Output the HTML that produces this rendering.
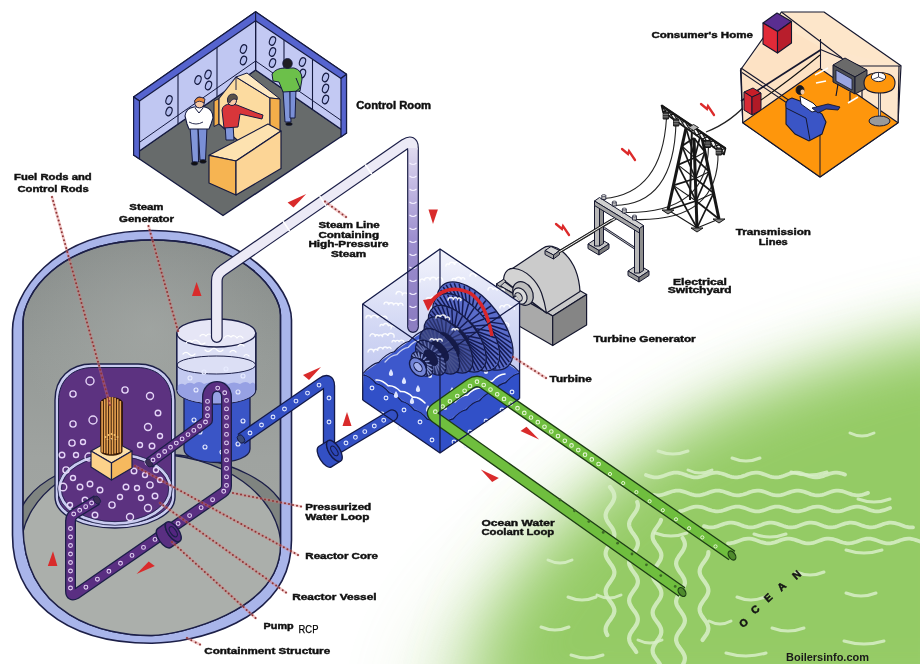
<!DOCTYPE html>
<html><head><meta charset="utf-8"><title>Nuclear Power Plant</title>
<style>
html,body{margin:0;padding:0;background:#fff;}
body{width:920px;height:666px;overflow:hidden;font-family:"Liberation Sans",sans-serif;}
svg{display:block;}
text{font-family:"Liberation Sans",sans-serif;}
</style></head><body>
<svg width="920" height="666" viewBox="0 0 920 666">
<defs>
<filter id="oblur" x="-40%" y="-40%" width="180%" height="180%"><feGaussianBlur stdDeviation="34"/></filter>
<filter id="oblur2" x="-40%" y="-40%" width="180%" height="180%"><feGaussianBlur stdDeviation="18"/></filter>
<filter id="oblur3" x="-50%" y="-50%" width="200%" height="200%"><feGaussianBlur stdDeviation="45"/></filter>
<linearGradient id="cgray" gradientUnits="userSpaceOnUse" x1="0" y1="235" x2="0" y2="640">
      <stop offset="0" stop-color="#868b89"/><stop offset="0.3" stop-color="#959a97"/><stop offset="0.55" stop-color="#9fa3a0"/><stop offset="1" stop-color="#a4a8a4"/></linearGradient>
<radialGradient id="cglow" cx="150" cy="330" r="130" gradientUnits="userSpaceOnUse">
      <stop offset="0" stop-color="#a8aca9" stop-opacity="0.6"/><stop offset="1" stop-color="#a8aca9" stop-opacity="0"/></radialGradient>
<clipPath id="cinner"><path d="M 23 525 L 23 322 C 23 296, 56 240, 152 240 C 248 240, 280.5 294, 280.5 315 L 280.5 545 C 280.5 612, 178 635, 152 635.5 C 104 636, 23 616, 23 525 Z"/></clipPath>
<linearGradient id="tbair" gradientUnits="userSpaceOnUse" x1="0" y1="250" x2="0" y2="400">
      <stop offset="0" stop-color="#f3f4fc"/><stop offset="0.5" stop-color="#d3d8f4"/><stop offset="1" stop-color="#b9c1ee"/></linearGradient>
<linearGradient id="stv" gradientUnits="userSpaceOnUse" x1="0" y1="140" x2="0" y2="330">
      <stop offset="0" stop-color="#e6e2f2"/><stop offset="0.2" stop-color="#c8bfe5"/><stop offset="0.52" stop-color="#9d8fcf"/><stop offset="1" stop-color="#8a7bc0"/></linearGradient>
<filter id="gaa" x="0" y="0" width="100%" height="100%" filterUnits="userSpaceOnUse"><feOffset dx="0" dy="0"/></filter>
</defs>
<rect x="0" y="0" width="920" height="666" fill="#ffffff"/>
<path d="M 1000 360 L 760 420 C 640 470 520 560 455 640 L 420 740 L 1000 740 Z" fill="#94cb65" opacity="0.45" filter="url(#oblur3)"/>
<path d="M 1000 325 L 920 340 C 820 365 715 405 645 455 C 580 505 525 565 497 625 L 472 720 L 1000 720 Z" fill="#94cb65" filter="url(#oblur)"/>
<g><path d="M646 475 L648 475.7 L650 476.4 L652 476.9 L654 477.3 L656 477.4 L657.9 477.3 L659.9 477 L661.9 476.4 L663.9 475.8 L665.9 475 L667.9 474.3 L669.9 473.6 L671.9 473.1 L673.9 472.7 L675.9 472.6 L677.8 472.7 L679.8 473 L681.8 473.5 L683.8 474.2 L685.8 474.9 L687.8 475.7 L689.8 476.3 L691.8 476.9 L693.8 477.3 L695.8 477.4 L697.7 477.3 L699.7 477 L701.7 476.5 L703.7 475.8 L705.7 475.1 L707.7 474.4 L709.7 473.7 L711.7 473.1 L713.7 472.8 L715.6 472.6 L717.6 472.7 L719.6 473 L721.6 473.5 L723.6 474.1 L725.6 474.8 L727.6 475.6 L729.6 476.3 L731.6 476.8 L733.6 477.2 L735.5 477.4 L737.5 477.3 L739.5 477 L741.5 476.6 L743.5 475.9 L745.5 475.2 L747.5 474.4 L749.5 473.8 L751.5 473.2 L753.5 472.8 L755.5 472.6 L757.4 472.7 L759.4 472.9 L761.4 473.4 L763.4 474.1 L765.4 474.8 L767.4 475.5 L769.4 476.2 L771.4 476.8 L773.4 477.2 L775.4 477.4 L777.3 477.3 L779.3 477.1 L781.3 476.6 L783.3 476 L785.3 475.3 L787.3 474.5 L789.3 473.8 L791.3 473.2 L793.3 472.8 L795.2 472.6 L797.2 472.6 L799.2 472.9 L801.2 473.4 L803.2 474 L805.2 474.7 L807.2 475.4 L809.2 476.1 L811.2 476.7 L813.2 477.2 L815.1 477.4 L817.1 477.4 L819.1 477.1 L821.1 476.7 L823.1 476.1 L825.1 475.3 L827.1 474.6 L829.1 473.9 L831.1 473.3 L833.1 472.9 L835 472.6 L837 472.6 L839 472.9 L841 473.3 L843 473.9 L845 474.6" fill="none" stroke="#d8eec8" stroke-width="3.8" stroke-linecap="round" opacity="0.85"/><path d="M654 495 L656 495.3 L658 495.4 L659.9 495.2 L661.9 494.9 L663.9 494.3 L665.9 493.6 L667.9 492.9 L669.9 492.2 L671.8 491.5 L673.8 491 L675.8 490.7 L677.8 490.6 L679.8 490.7 L681.7 491.1 L683.7 491.6 L685.7 492.3 L687.7 493 L689.7 493.8 L691.6 494.4 L693.6 494.9 L695.6 495.3 L697.6 495.4 L699.6 495.3 L701.6 495 L703.5 494.4 L705.5 493.8 L707.5 493.1 L709.5 492.3 L711.5 491.6 L713.4 491.1 L715.4 490.7 L717.4 490.6 L719.4 490.7 L721.4 491 L723.4 491.5 L725.3 492.2 L727.3 492.9 L729.3 493.6 L731.3 494.3 L733.3 494.9 L735.2 495.2 L737.2 495.4 L739.2 495.3 L741.2 495 L743.2 494.5 L745.1 493.9 L747.1 493.2 L749.1 492.4 L751.1 491.8 L753.1 491.2 L755.1 490.8 L757 490.6 L759 490.7 L761 490.9 L763 491.4 L765 492 L766.9 492.7 L768.9 493.5 L770.9 494.2 L772.9 494.8 L774.9 495.2 L776.9 495.4 L778.8 495.4 L780.8 495.1 L782.8 494.7 L784.8 494 L786.8 493.3 L788.7 492.6 L790.7 491.9 L792.7 491.3 L794.7 490.9 L796.7 490.6 L798.6 490.6 L800.6 490.9 L802.6 491.3 L804.6 491.9 L806.6 492.6 L808.6 493.3 L810.5 494.1 L812.5 494.7 L814.5 495.1 L816.5 495.4 L818.5 495.4 L820.4 495.2 L822.4 494.8 L824.4 494.2 L826.4 493.5 L828.4 492.7 L830.4 492 L832.3 491.4 L834.3 490.9 L836.3 490.7 L838.3 490.6 L840.3 490.8 L842.2 491.2 L844.2 491.8 L846.2 492.5 L848.2 493.2 L850.2 493.9 L852.1 494.6 L854.1 495 L856.1 495.3 L858.1 495.4 L860.1 495.2 L862.1 494.8 L864 494.3 L866 493.6 L868 492.9" fill="none" stroke="#d8eec8" stroke-width="3.8" stroke-linecap="round" opacity="0.85"/><path d="M680 511.2 L682 510.8 L684 510.2 L685.9 509.5 L687.9 508.8 L689.9 508 L691.9 507.4 L693.9 506.9 L695.8 506.7 L697.8 506.6 L699.8 506.8 L701.8 507.2 L703.8 507.7 L705.8 508.4 L707.7 509.2 L709.7 509.9 L711.7 510.5 L713.7 511 L715.7 511.3 L717.6 511.4 L719.6 511.2 L721.6 510.9 L723.6 510.3 L725.6 509.6 L727.5 508.9 L729.5 508.2 L731.5 507.5 L733.5 507 L735.5 506.7 L737.5 506.6 L739.4 506.7 L741.4 507.1 L743.4 507.6 L745.4 508.3 L747.4 509 L749.3 509.8 L751.3 510.4 L753.3 510.9 L755.3 511.3 L757.3 511.4 L759.2 511.3 L761.2 511 L763.2 510.4 L765.2 509.8 L767.2 509 L769.2 508.3 L771.1 507.6 L773.1 507.1 L775.1 506.7 L777.1 506.6 L779.1 506.7 L781 507 L783 507.5 L785 508.2 L787 508.9 L789 509.6 L790.9 510.3 L792.9 510.9 L794.9 511.2 L796.9 511.4 L798.9 511.3 L800.8 511 L802.8 510.5 L804.8 509.9 L806.8 509.2 L808.8 508.4 L810.8 507.8 L812.7 507.2 L814.7 506.8 L816.7 506.6 L818.7 506.7 L820.7 506.9 L822.6 507.4 L824.6 508 L826.6 508.8 L828.6 509.5 L830.6 510.2 L832.5 510.8 L834.5 511.2 L836.5 511.4 L838.5 511.4 L840.5 511.1 L842.5 510.6 L844.4 510 L846.4 509.3 L848.4 508.6 L850.4 507.9 L852.4 507.3 L854.3 506.8 L856.3 506.6 L858.3 506.6 L860.3 506.9 L862.3 507.3 L864.2 507.9 L866.2 508.6 L868.2 509.4 L870.2 510.1 L872.2 510.7 L874.2 511.1 L876.1 511.4 L878.1 511.4 L880.1 511.2 L882.1 510.7 L884.1 510.2 L886 509.5 L888 508.7 L890 508" fill="none" stroke="#d8eec8" stroke-width="3.8" stroke-linecap="round" opacity="0.85"/><path d="M704 526.2 L706 526.7 L708 527.2 L710 527.4 L712 527.4 L714 527.1 L715.9 526.7 L717.9 526.1 L719.9 525.3 L721.9 524.6 L723.9 523.9 L725.9 523.3 L727.9 522.8 L729.9 522.6 L731.9 522.6 L733.9 522.9 L735.8 523.3 L737.8 523.9 L739.8 524.6 L741.8 525.4 L743.8 526.1 L745.8 526.7 L747.8 527.1 L749.8 527.4 L751.8 527.4 L753.8 527.1 L755.8 526.7 L757.7 526.1 L759.7 525.4 L761.7 524.7 L763.7 523.9 L765.7 523.3 L767.7 522.9 L769.7 522.6 L771.7 522.6 L773.7 522.8 L775.7 523.3 L777.6 523.9 L779.6 524.6 L781.6 525.3 L783.6 526 L785.6 526.6 L787.6 527.1 L789.6 527.4 L791.6 527.4 L793.6 527.2 L795.6 526.8 L797.6 526.2 L799.5 525.5 L801.5 524.7 L803.5 524 L805.5 523.4 L807.5 522.9 L809.5 522.7 L811.5 522.6 L813.5 522.8 L815.5 523.2 L817.5 523.8 L819.4 524.5 L821.4 525.2 L823.4 526 L825.4 526.6 L827.4 527.1 L829.4 527.3 L831.4 527.4 L833.4 527.2 L835.4 526.8 L837.4 526.2 L839.4 525.5 L841.3 524.8 L843.3 524.1 L845.3 523.4 L847.3 523 L849.3 522.7 L851.3 522.6 L853.3 522.8 L855.3 523.2 L857.3 523.7 L859.3 524.4 L861.2 525.2 L863.2 525.9 L865.2 526.5 L867.2 527 L869.2 527.3 L871.2 527.4 L873.2 527.2 L875.2 526.9 L877.2 526.3 L879.2 525.6 L881.2 524.9 L883.1 524.1 L885.1 523.5 L887.1 523 L889.1 522.7 L891.1 522.6 L893.1 522.8 L895.1 523.1 L897.1 523.7 L899.1 524.3 L901.1 525.1 L903 525.8 L905 526.5 L907 527 L909 527.3 L911 527.4 L913 527.3" fill="none" stroke="#d8eec8" stroke-width="3.8" stroke-linecap="round" opacity="0.85"/><path d="M728 543.4 L730 543.3 L732 543 L733.9 542.6 L735.9 541.9 L737.9 541.2 L739.9 540.5 L741.9 539.8 L743.8 539.2 L745.8 538.8 L747.8 538.6 L749.8 538.7 L751.8 538.9 L753.7 539.4 L755.7 540 L757.7 540.7 L759.7 541.5 L761.6 542.2 L763.6 542.7 L765.6 543.2 L767.6 543.4 L769.6 543.4 L771.5 543.1 L773.5 542.7 L775.5 542.1 L777.5 541.4 L779.5 540.6 L781.4 539.9 L783.4 539.3 L785.4 538.9 L787.4 538.6 L789.4 538.6 L791.3 538.8 L793.3 539.3 L795.3 539.9 L797.3 540.6 L799.3 541.3 L801.2 542 L803.2 542.6 L805.2 543.1 L807.2 543.4 L809.2 543.4 L811.1 543.2 L813.1 542.8 L815.1 542.2 L817.1 541.5 L819.1 540.8 L821 540.1 L823 539.4 L825 538.9 L827 538.7 L828.9 538.6 L830.9 538.8 L832.9 539.2 L834.9 539.7 L836.9 540.4 L838.8 541.1 L840.8 541.9 L842.8 542.5 L844.8 543 L846.8 543.3 L848.7 543.4 L850.7 543.2 L852.7 542.9 L854.7 542.3 L856.7 541.7 L858.6 540.9 L860.6 540.2 L862.6 539.5 L864.6 539 L866.6 538.7 L868.5 538.6 L870.5 538.7 L872.5 539.1 L874.5 539.6 L876.5 540.3 L878.4 541 L880.4 541.7 L882.4 542.4 L884.4 542.9 L886.4 543.3 L888.3 543.4 L890.3 543.3 L892.3 543 L894.3 542.5 L896.2 541.8 L898.2 541.1 L900.2 540.3 L902.2 539.7 L904.2 539.1 L906.1 538.8 L908.1 538.6 L910.1 538.7 L912.1 539 L914.1 539.5 L916 540.1 L918 540.8 L920 541.6" fill="none" stroke="#d8eec8" stroke-width="3.8" stroke-linecap="round" opacity="0.85"/><path d="M610 487 L611.4 489 L612.7 490.9 L613.7 492.9 L614.2 494.9 L614.4 496.9 L614.1 498.8 L613.3 500.8 L612.2 502.8 L610.9 504.8 L609.5 506.7 L608.1 508.7 L606.9 510.7 L606.1 512.7 L605.6 514.6 L605.7 516.6 L606.2 518.6 L607 520.5 L608.2 522.5 L609.6 524.5 L611.1 526.5 L612.4 528.4 L613.4 530.4 L614.1 532.4 L614.4 534.4 L614.2 536.3 L613.6 538.3 L612.5 540.3 L611.3 542.3 L609.8 544.2 L608.4 546.2 L607.2 548.2 L606.3 550.1 L605.7 552.1 L605.6 554.1 L606 556.1 L606.8 558 L607.9 560 L609.3 562 L610.7 564 L612.1 565.9 L613.2 567.9 L614 569.9 L614.4 571.9 L614.3 573.8 L613.8 575.8 L612.8 577.8 L611.6 579.7 L610.2 581.7 L608.8 583.7 L607.5 585.7 L606.5 587.6 L605.8 589.6 L605.6 591.6 L605.9 593.6 L606.5 595.5 L607.6 597.5 L608.9 599.5 L610.3 601.5 L611.7 603.4 L612.9 605.4 L613.8 607.4 L614.3 609.3 L614.4 611.3 L613.9 613.3 L613.1 615.3 L611.9 617.2 L610.6 619.2 L609.1 621.2 L607.8 623.2 L606.7 625.1 L605.9 627.1 L605.6 629.1 L605.7 631.1 L606.3 633 L607.3 635" fill="none" stroke="#d8eec8" stroke-width="4.2" stroke-linecap="round" opacity="0.85"/><path d="M637.2 502 L637.8 504 L637.9 505.9 L637.5 507.9 L636.8 509.9 L635.6 511.9 L634.3 513.8 L632.9 515.8 L631.5 517.8 L630.4 519.8 L629.5 521.7 L629.1 523.7 L629.2 525.7 L629.7 527.7 L630.6 529.6 L631.8 531.6 L633.2 533.6 L634.7 535.6 L636 537.5 L637 539.5 L637.7 541.5 L637.9 543.4 L637.7 545.4 L637 547.4 L636 549.4 L634.7 551.3 L633.2 553.3 L631.8 555.3 L630.6 557.3 L629.7 559.2 L629.2 561.2 L629.1 563.2 L629.5 565.2 L630.4 567.1 L631.5 569.1 L632.9 571.1 L634.3 573.1 L635.6 575 L636.8 577 L637.5 579 L637.9 580.9 L637.8 582.9 L637.2 584.9 L636.3 586.9 L635 588.8 L633.6 590.8 L632.2 592.8 L630.9 594.8 L629.9 596.7 L629.3 598.7 L629.1 600.7 L629.4 602.7 L630.1 604.6 L631.2 606.6 L632.5 608.6 L633.9 610.6 L635.3 612.5 L636.5 614.5 L637.4 616.5 L637.8 618.4 L637.8 620.4 L637.4 622.4 L636.5 624.4 L635.3 626.3 L634 628.3 L632.5 630.3 L631.2 632.3 L630.1 634.2 L629.4 636.2 L629.1 638.2 L629.3 640.2 L629.9 642.1 L630.9 644.1 L632.2 646.1 L633.6 648.1 L635 650 L636.2 652" fill="none" stroke="#d8eec8" stroke-width="4.2" stroke-linecap="round" opacity="0.85"/><path d="M661 520 L660.2 522 L659.1 523.9 L657.7 525.9 L656.3 527.9 L654.9 529.9 L653.8 531.8 L653 533.8 L652.6 535.8 L652.7 537.8 L653.2 539.7 L654.2 541.7 L655.4 543.7 L656.8 545.6 L658.2 547.6 L659.5 549.6 L660.5 551.6 L661.2 553.5 L661.4 555.5 L661.1 557.5 L660.5 559.5 L659.4 561.4 L658.1 563.4 L656.7 565.4 L655.3 567.3 L654.1 569.3 L653.2 571.3 L652.7 573.3 L652.6 575.2 L653.1 577.2 L653.9 579.2 L655.1 581.2 L656.4 583.1 L657.9 585.1 L659.2 587.1 L660.3 589 L661.1 591 L661.4 593 L661.3 595 L660.7 596.9 L659.7 598.9 L658.4 600.9 L657 602.8 L655.6 604.8 L654.4 606.8 L653.4 608.8 L652.8 610.7 L652.6 612.7 L652.9 614.7 L653.6 616.7 L654.7 618.6 L656.1 620.6 L657.5 622.6 L658.9 624.5 L660 626.5 L660.9 628.5 L661.3 630.5 L661.3 632.4 L660.9 634.4 L660 636.4 L658.8 638.4 L657.4 640.3 L656 642.3 L654.7 644.3 L653.6 646.2 L652.9 648.2 L652.6 650.2 L652.8 652.2 L653.4 654.1 L654.4 656.1 L655.7 658.1 L657.1 660.1 L658.5 662 L659.8 664" fill="none" stroke="#d8eec8" stroke-width="4.2" stroke-linecap="round" opacity="0.85"/><path d="M682.6 538 L683.7 540 L684.5 541.9 L684.9 543.9 L684.8 545.9 L684.2 547.8 L683.3 549.8 L682.1 551.8 L680.7 553.8 L679.2 555.7 L678 557.7 L676.9 559.7 L676.3 561.6 L676.1 563.6 L676.4 565.6 L677.1 567.5 L678.1 569.5 L679.4 571.5 L680.8 573.4 L682.2 575.4 L683.4 577.4 L684.3 579.3 L684.8 581.3 L684.9 583.3 L684.4 585.2 L683.6 587.2 L682.5 589.2 L681.1 591.2 L679.7 593.1 L678.3 595.1 L677.2 597.1 L676.5 599 L676.1 601 L676.2 603 L676.8 604.9 L677.8 606.9 L679 608.9 L680.4 610.8 L681.8 612.8 L683.1 614.8 L684.1 616.8 L684.7 618.7 L684.9 620.7 L684.6 622.7 L683.9 624.6 L682.8 626.6 L681.5 628.6 L680.1 630.5 L678.7 632.5 L677.5 634.5 L676.6 636.4 L676.2 638.4 L676.1 640.4 L676.6 642.3 L677.4 644.3 L678.6 646.3 L680 648.2 L681.4 650.2 L682.7 652.2 L683.8 654.2 L684.6 656.1 L684.9 658.1 L684.7 660.1 L684.2 662 L683.2 664" fill="none" stroke="#d8eec8" stroke-width="4.2" stroke-linecap="round" opacity="0.85"/><path d="M708.4 552 L708.3 554 L707.7 555.9 L706.7 557.9 L705.5 559.8 L704.1 561.8 L702.7 563.7 L701.4 565.7 L700.4 567.6 L699.8 569.6 L699.6 571.6 L699.9 573.5 L700.5 575.5 L701.6 577.4 L702.9 579.4 L704.3 581.3 L705.7 583.3 L706.9 585.2 L707.8 587.2 L708.3 589.2 L708.4 591.1 L708 593.1 L707.2 595 L706.1 597 L704.7 598.9 L703.3 600.9 L702 602.8 L700.8 604.8 L700 606.8 L699.6 608.7 L699.7 610.7 L700.2 612.6 L701.1 614.6 L702.3 616.5 L703.7 618.5 L705.1 620.4 L706.4 622.4 L707.4 624.4 L708.1 626.3 L708.4 628.3 L708.2 630.2 L707.6 632.2 L706.6 634.1 L705.3 636.1 L703.9 638 L702.5 640" fill="none" stroke="#d8eec8" stroke-width="4.2" stroke-linecap="round" opacity="0.85"/><path d="M 658 451 Q 673 457 688 451" fill="none" stroke="#d8eec8" stroke-width="3.0" stroke-linecap="round" opacity="0.85"/><path d="M 732 458 Q 746 464 760 458" fill="none" stroke="#d8eec8" stroke-width="3.0" stroke-linecap="round" opacity="0.85"/><path d="M 791 472 Q 809 478 827 472" fill="none" stroke="#d8eec8" stroke-width="3.0" stroke-linecap="round" opacity="0.85"/><path d="M 858 499 Q 874 505 890 499" fill="none" stroke="#d8eec8" stroke-width="3.0" stroke-linecap="round" opacity="0.85"/><path d="M 850 433 Q 862 439 874 433" fill="none" stroke="#d8eec8" stroke-width="3.0" stroke-linecap="round" opacity="0.85"/><path d="M 568 597 Q 582 603 596 597" fill="none" stroke="#d8eec8" stroke-width="3.0" stroke-linecap="round" opacity="0.85"/><path d="M 597 595 Q 609 601 621 595" fill="none" stroke="#d8eec8" stroke-width="3.0" stroke-linecap="round" opacity="0.85"/><path d="M 541 627 Q 555 633 569 627" fill="none" stroke="#d8eec8" stroke-width="3.0" stroke-linecap="round" opacity="0.85"/><path d="M 571 655 Q 587 661 603 655" fill="none" stroke="#d8eec8" stroke-width="3.0" stroke-linecap="round" opacity="0.85"/><path d="M 754 534 Q 770 540 786 534" fill="none" stroke="#d8eec8" stroke-width="3.0" stroke-linecap="round" opacity="0.85"/><path d="M 846 550 Q 864 556 882 550" fill="none" stroke="#d8eec8" stroke-width="3.0" stroke-linecap="round" opacity="0.85"/><path d="M 655 533 Q 671 539 687 533" fill="none" stroke="#d8eec8" stroke-width="3.0" stroke-linecap="round" opacity="0.85"/><path d="M 737 597 Q 751 603 765 597" fill="none" stroke="#d8eec8" stroke-width="3.0" stroke-linecap="round" opacity="0.85"/><path d="M 772 628 Q 788 634 804 628" fill="none" stroke="#d8eec8" stroke-width="3.0" stroke-linecap="round" opacity="0.85"/><path d="M 846 593 Q 861 599 876 593" fill="none" stroke="#d8eec8" stroke-width="3.0" stroke-linecap="round" opacity="0.85"/><path d="M 796 572 Q 810 578 824 572" fill="none" stroke="#d8eec8" stroke-width="3.0" stroke-linecap="round" opacity="0.85"/><path d="M 688 470 Q 700 476 712 470" fill="none" stroke="#d8eec8" stroke-width="3.0" stroke-linecap="round" opacity="0.85"/><path d="M 638 640 Q 650 646 662 640" fill="none" stroke="#d8eec8" stroke-width="3.0" stroke-linecap="round" opacity="0.85"/><path d="M 709 621 Q 720 627 731 621" fill="none" stroke="#d8eec8" stroke-width="3.0" stroke-linecap="round" opacity="0.85"/><path d="M 726 653 Q 746 659 766 653" fill="none" stroke="#d8eec8" stroke-width="3.0" stroke-linecap="round" opacity="0.85"/><path d="M 844 641 Q 864 647 884 641" fill="none" stroke="#d8eec8" stroke-width="3.0" stroke-linecap="round" opacity="0.85"/><path d="M 548 560 Q 560 566 572 560" fill="none" stroke="#d8eec8" stroke-width="3.0" stroke-linecap="round" opacity="0.85"/></g>
<rect x="0" y="664" width="920" height="2" fill="#ffffff"/>
<path d="M 12.5 535 L 12.5 330 C 12.5 296, 50 230.5, 152 230.5 C 246 230.5, 291.5 288, 291.5 320 L 291.5 540 C 291.5 624, 190 643, 152 643.2 C 60 643.5, 12.5 596, 12.5 535 Z" fill="#a9b5ea" stroke="#1c1f48" stroke-width="1.6" />
<path d="M 23 525 L 23 322 C 23 296, 56 240, 152 240 C 248 240, 280.5 294, 280.5 315 L 280.5 545 C 280.5 612, 178 635, 152 635.5 C 104 636, 23 616, 23 525 Z" fill="url(#cgray)" stroke="#1c1f48" stroke-width="1.4" />
<path d="M 23 525 L 23 322 C 23 296, 56 240, 152 240 C 248 240, 280.5 294, 280.5 315 L 280.5 545 C 280.5 612, 178 635, 152 635.5 C 104 636, 23 616, 23 525 Z" fill="url(#cglow)" stroke="none" stroke-width="1" />
<g clip-path="url(#cinner)"><ellipse cx="153" cy="524" rx="135" ry="70" fill="#7f8480" stroke="#1c1f48" stroke-width="1.3" /><ellipse cx="151" cy="548" rx="130" ry="94" fill="#abafab" stroke="#1c1f48" stroke-width="1.3" /></g>
<path d="M 23 525 L 23 322 C 23 296, 56 240, 152 240 C 248 240, 280.5 294, 280.5 315 L 280.5 545 C 280.5 612, 178 635, 152 635.5 C 104 636, 23 616, 23 525 Z" fill="none" stroke="#1c1f48" stroke-width="1.4" />
<path d="M 55 400 C 55 378, 70 364, 92 364 L 138 364 C 160 364, 175 378, 175 400 L 175 497 C 175 515, 148 528, 115 528 C 82 528, 55 515, 55 497 Z" fill="#c9cbf0" stroke="#1c1f48" stroke-width="1.4" />
<path d="M 58.5 401 C 58.5 381, 72 367.5, 93 367.5 L 137 367.5 C 158 367.5, 171.5 381, 171.5 401 L 171.5 497 C 171.5 512, 146 524.5, 115 524.5 C 84 524.5, 58.5 512, 58.5 497 Z" fill="#5c3280" stroke="#1c1f48" stroke-width="1.0" />
<ellipse cx="115" cy="489" rx="55.5" ry="34.5" fill="none" stroke="#c9cbf0" stroke-width="3.2" />
<ellipse cx="115" cy="489" rx="57.3" ry="36.3" fill="none" stroke="#1c1f48" stroke-width="0.8" />
<ellipse cx="115" cy="489" rx="53.7" ry="32.7" fill="none" stroke="#1c1f48" stroke-width="0.8" />
<circle cx="73" cy="394" r="3.1" fill="none" stroke="#e4d4f6" stroke-width="1.4" /><circle cx="90" cy="381" r="4" fill="none" stroke="#e4d4f6" stroke-width="1.4" /><circle cx="125" cy="390" r="3.1" fill="none" stroke="#e4d4f6" stroke-width="1.4" /><circle cx="150" cy="396" r="3.5" fill="none" stroke="#e4d4f6" stroke-width="1.4" /><circle cx="158" cy="413" r="2.8" fill="none" stroke="#e4d4f6" stroke-width="1.4" /><circle cx="73" cy="424" r="3.1" fill="none" stroke="#e4d4f6" stroke-width="1.4" /><circle cx="93" cy="420" r="4" fill="none" stroke="#e4d4f6" stroke-width="1.4" /><circle cx="72" cy="443" r="3.1" fill="none" stroke="#e4d4f6" stroke-width="1.4" /><circle cx="83" cy="442" r="2.5" fill="none" stroke="#e4d4f6" stroke-width="1.4" /><circle cx="89" cy="457" r="4" fill="none" stroke="#e4d4f6" stroke-width="1.4" /><circle cx="148" cy="427" r="3.5" fill="none" stroke="#e4d4f6" stroke-width="1.4" /><circle cx="152" cy="446" r="2.8" fill="none" stroke="#e4d4f6" stroke-width="1.4" /><circle cx="160" cy="436" r="2.5" fill="none" stroke="#e4d4f6" stroke-width="1.4" /><circle cx="140" cy="445" r="2.5" fill="none" stroke="#e4d4f6" stroke-width="1.4" /><circle cx="148" cy="462" r="2.8" fill="none" stroke="#e4d4f6" stroke-width="1.4" /><circle cx="156" cy="470" r="2.5" fill="none" stroke="#e4d4f6" stroke-width="1.4" /><circle cx="66" cy="470" r="3.1" fill="none" stroke="#e4d4f6" stroke-width="1.4" /><circle cx="73" cy="478" r="2.5" fill="none" stroke="#e4d4f6" stroke-width="1.4" /><circle cx="134" cy="471" r="2.8" fill="none" stroke="#e4d4f6" stroke-width="1.4" /><circle cx="145" cy="475" r="2.5" fill="none" stroke="#e4d4f6" stroke-width="1.4" /><circle cx="63" cy="487" r="3.8" fill="none" stroke="#e4d4f6" stroke-width="1.4" /><circle cx="80" cy="487" r="2.8" fill="none" stroke="#e4d4f6" stroke-width="1.4" /><circle cx="90" cy="484" r="2.8" fill="none" stroke="#e4d4f6" stroke-width="1.4" /><circle cx="100" cy="490" r="2.8" fill="none" stroke="#e4d4f6" stroke-width="1.4" /><circle cx="126" cy="487" r="2.8" fill="none" stroke="#e4d4f6" stroke-width="1.4" /><circle cx="137" cy="488" r="2.5" fill="none" stroke="#e4d4f6" stroke-width="1.4" /><circle cx="150" cy="485" r="3.1" fill="none" stroke="#e4d4f6" stroke-width="1.4" /><circle cx="155" cy="496" r="2.8" fill="none" stroke="#e4d4f6" stroke-width="1.4" /><circle cx="70" cy="505" r="2.5" fill="none" stroke="#e4d4f6" stroke-width="1.4" /><circle cx="85" cy="500" r="2.8" fill="none" stroke="#e4d4f6" stroke-width="1.4" /><circle cx="112" cy="505" r="3.1" fill="none" stroke="#e4d4f6" stroke-width="1.4" /><circle cx="148" cy="508" r="3.5" fill="none" stroke="#e4d4f6" stroke-width="1.4" /><circle cx="95" cy="515" r="2.8" fill="none" stroke="#e4d4f6" stroke-width="1.4" /><circle cx="130" cy="517" r="3.5" fill="none" stroke="#e4d4f6" stroke-width="1.4" /><circle cx="160" cy="480" r="2.5" fill="none" stroke="#e4d4f6" stroke-width="1.4" /><circle cx="141" cy="498" r="2.5" fill="none" stroke="#e4d4f6" stroke-width="1.4" /><circle cx="76" cy="455" r="2.5" fill="none" stroke="#e4d4f6" stroke-width="1.4" /><circle cx="62" cy="455" r="2.8" fill="none" stroke="#e4d4f6" stroke-width="1.4" /><circle cx="120" cy="497" r="2.5" fill="none" stroke="#e4d4f6" stroke-width="1.4" />
<path d="M 100.5 450 L 100.5 402 C 103.5 396, 119.5 396, 122.5 402 L 122.5 450 Z" fill="#3a1c08" stroke="#2a1205" stroke-width="0.8" /><line x1="102.1" y1="401" x2="102.1" y2="450" stroke="#e8a352" stroke-width="1.6" /><line x1="104.7" y1="399.2" x2="104.7" y2="450" stroke="#e8a352" stroke-width="1.6" /><line x1="107.3" y1="397.8" x2="107.3" y2="450" stroke="#e8a352" stroke-width="1.6" /><line x1="109.9" y1="397.1" x2="109.9" y2="450" stroke="#e8a352" stroke-width="1.6" /><line x1="112.5" y1="397.1" x2="112.5" y2="450" stroke="#e8a352" stroke-width="1.6" /><line x1="115.1" y1="397.8" x2="115.1" y2="450" stroke="#e8a352" stroke-width="1.6" /><line x1="117.7" y1="399.2" x2="117.7" y2="450" stroke="#e8a352" stroke-width="1.6" /><line x1="120.3" y1="401" x2="120.3" y2="450" stroke="#e8a352" stroke-width="1.6" /><circle cx="105.5" cy="437" r="1" fill="#f2c070" stroke="none" stroke-width="1" /><circle cx="108.5" cy="435" r="1" fill="#f2c070" stroke="none" stroke-width="1" /><circle cx="111.5" cy="434" r="1" fill="#f2c070" stroke="none" stroke-width="1" /><circle cx="114.5" cy="435" r="1" fill="#f2c070" stroke="none" stroke-width="1" /><circle cx="117.5" cy="437" r="1" fill="#f2c070" stroke="none" stroke-width="1" /><circle cx="107.5" cy="440" r="1" fill="#f2c070" stroke="none" stroke-width="1" /><circle cx="111.5" cy="439" r="1" fill="#f2c070" stroke="none" stroke-width="1" /><circle cx="115.5" cy="440" r="1" fill="#f2c070" stroke="none" stroke-width="1" /><circle cx="109.5" cy="443" r="1" fill="#f2c070" stroke="none" stroke-width="1" /><circle cx="113.5" cy="443" r="1" fill="#f2c070" stroke="none" stroke-width="1" />
<polygon points="91,451 111,440 132,451 111.5,463" fill="#fde0a8" stroke="#1c1f48" stroke-width="1.2" stroke-linejoin="round" /><polygon points="91,451 111.5,463 111.5,480 91,467" fill="#fcd28a" stroke="#1c1f48" stroke-width="1.2" stroke-linejoin="round" /><polygon points="111.5,463 132,451 132,468 111.5,480" fill="#f6b95e" stroke="#1c1f48" stroke-width="1.2" stroke-linejoin="round" />
<path d="M 100.5 440 L 100.5 452 C 104 457, 119 457, 122.5 452 L 122.5 440 Z" fill="#3a1c08" stroke="none" stroke-width="1" /><line x1="102.1" y1="440" x2="102.1" y2="452.4" stroke="#e8a352" stroke-width="1.6" /><line x1="104.7" y1="440" x2="104.7" y2="453" stroke="#e8a352" stroke-width="1.6" /><line x1="107.3" y1="440" x2="107.3" y2="453.6" stroke="#e8a352" stroke-width="1.6" /><line x1="109.9" y1="440" x2="109.9" y2="454.2" stroke="#e8a352" stroke-width="1.6" /><line x1="112.5" y1="440" x2="112.5" y2="454.2" stroke="#e8a352" stroke-width="1.6" /><line x1="115.1" y1="440" x2="115.1" y2="453.6" stroke="#e8a352" stroke-width="1.6" /><line x1="117.7" y1="440" x2="117.7" y2="453" stroke="#e8a352" stroke-width="1.6" /><line x1="120.3" y1="440" x2="120.3" y2="452.4" stroke="#e8a352" stroke-width="1.6" />
<path d="M 184 392 L 184 449 C 184 457, 199 462.5, 217 462.5 C 235 462.5, 250 457, 250 449 L 250 392 Z" fill="#3a55c6" stroke="#1c1f48" stroke-width="1.3" /><path d="M 176.8 333 L 176.8 390 C 176.8 398, 195 404, 216.3 404 C 237.6 404, 255.8 398, 255.8 390 L 255.8 333 Z" fill="#c3caf1" stroke="#1c1f48" stroke-width="1.3" /><path d="M 177.5 386 Q 181 382 185 385 Q 189 381 194 384 Q 199 380 204 384 Q 210 381 216 384 Q 222 380 228 384 Q 234 381 240 384 Q 246 380 250 384 Q 253 381 255 384 L 255 390 C 255 398, 237.6 403.3, 216.3 403.3 C 195 403.3, 177.5 398, 177.5 390 Z" fill="#97a1e4" stroke="none" stroke-width="1" /><path d="M 177.5 333 L 177.5 365 C 177.5 370, 195 374, 216.3 374 C 237.6 374, 255 370, 255 365 L 255 333 Z" fill="#dcdff5" stroke="none" stroke-width="1" /><ellipse cx="216.3" cy="333" rx="39.5" ry="14" fill="#e6e6f6" stroke="#1c1f48" stroke-width="1.3" /><ellipse cx="216.3" cy="365" rx="39.3" ry="9" fill="none" stroke="#1c1f48" stroke-width="1.0" /><path d="M 176.8 333 L 176.8 390 M 255.8 333 L 255.8 390" fill="none" stroke="#1c1f48" stroke-width="1.3" /><path d="M 186 343 q 3 -4 6 -1 q 3 -4 7 0 q 2 4 6 1" fill="none" stroke="#ffffff" stroke-width="1.2" stroke-linecap="round"/><path d="M 200 336 q 3 -3 6 0 q 3 -4 6 0" fill="none" stroke="#ffffff" stroke-width="1.2" stroke-linecap="round"/><path d="M 224 338 q 3 -4 7 -1 q 3 -3 6 1 q 3 -4 6 0" fill="none" stroke="#ffffff" stroke-width="1.2" stroke-linecap="round"/><path d="M 238 346 q 3 -3 6 0" fill="none" stroke="#ffffff" stroke-width="1.2" stroke-linecap="round"/><path d="M 183 354 q 3 -3 6 0 q 3 3 6 0" fill="none" stroke="#ffffff" stroke-width="1.2" stroke-linecap="round"/><path d="M 244 356 q 2 -3 5 0" fill="none" stroke="#ffffff" stroke-width="1.2" stroke-linecap="round"/><path d="M 205 350 q 3 3 6 0 q 3 -3 6 0 q 3 3 6 0" fill="none" stroke="#ffffff" stroke-width="1.2" stroke-linecap="round"/><path d="M 230 352 q 3 -3 6 0" fill="none" stroke="#ffffff" stroke-width="1.2" stroke-linecap="round"/><circle cx="190" cy="378" r="2" fill="none" stroke="#e8ecff" stroke-width="1.1" /><circle cx="204" cy="372" r="2" fill="none" stroke="#e8ecff" stroke-width="1.1" /><circle cx="226" cy="369" r="2" fill="none" stroke="#e8ecff" stroke-width="1.1" /><circle cx="243" cy="376" r="2" fill="none" stroke="#e8ecff" stroke-width="1.1" /><circle cx="196" cy="390" r="2" fill="none" stroke="#e8ecff" stroke-width="1.1" /><circle cx="238" cy="392" r="2" fill="none" stroke="#e8ecff" stroke-width="1.1" /><circle cx="214" cy="386" r="2" fill="none" stroke="#e8ecff" stroke-width="1.1" /><circle cx="200" cy="432" r="2" fill="none" stroke="#e8ecff" stroke-width="1.1" /><circle cx="243" cy="421" r="2" fill="none" stroke="#e8ecff" stroke-width="1.1" /><circle cx="238" cy="444" r="2" fill="none" stroke="#e8ecff" stroke-width="1.1" /><circle cx="205" cy="447" r="2" fill="none" stroke="#e8ecff" stroke-width="1.1" /><circle cx="194" cy="420" r="2" fill="none" stroke="#e8ecff" stroke-width="1.1" /><circle cx="248" cy="433" r="2" fill="none" stroke="#e8ecff" stroke-width="1.1" /><circle cx="222" cy="452" r="2" fill="none" stroke="#e8ecff" stroke-width="1.1" />
<path d="M 149 463 L 207.5 420.5 L 207.5 397 C 207.5 383, 226.5 383, 226.5 397 L 226.5 486 Q 226.5 490 223 492.5 L 76 594 Q 70.5 597 70.5 591 L 70.5 521 Q 70.5 516 75 513.5 L 97 500" fill="none" stroke="#1c1f48" stroke-width="11" stroke-linejoin="round"/>
<path d="M 149 463 L 207.5 420.5 L 207.5 397 C 207.5 383, 226.5 383, 226.5 397 L 226.5 486 Q 226.5 490 223 492.5 L 76 594 Q 70.5 597 70.5 591 L 70.5 521 Q 70.5 516 75 513.5 L 97 500" fill="none" stroke="#5a2f82" stroke-width="8.4" stroke-linejoin="round"/>
<ellipse cx="149" cy="463" rx="3" ry="4.3" fill="#3b2d55" stroke="#1c1f48" stroke-width="0.8" transform="rotate(-36 149 463)"/>
<ellipse cx="97" cy="500" rx="3" ry="4.3" fill="#3b2d55" stroke="#1c1f48" stroke-width="0.8" transform="rotate(-36 97 500)"/>
<circle cx="153" cy="460" r="1.9" fill="none" stroke="#e0cff2" stroke-width="1.1" /><circle cx="158.8" cy="455.8" r="1.9" fill="none" stroke="#e0cff2" stroke-width="1.1" /><circle cx="164.7" cy="451.5" r="1.9" fill="none" stroke="#e0cff2" stroke-width="1.1" /><circle cx="170.5" cy="447.3" r="1.9" fill="none" stroke="#e0cff2" stroke-width="1.1" /><circle cx="176.3" cy="443.1" r="1.9" fill="none" stroke="#e0cff2" stroke-width="1.1" /><circle cx="182.1" cy="438.9" r="1.9" fill="none" stroke="#e0cff2" stroke-width="1.1" /><circle cx="188" cy="434.6" r="1.9" fill="none" stroke="#e0cff2" stroke-width="1.1" /><circle cx="193.8" cy="430.4" r="1.9" fill="none" stroke="#e0cff2" stroke-width="1.1" /><circle cx="199.6" cy="426.2" r="1.9" fill="none" stroke="#e0cff2" stroke-width="1.1" /><circle cx="205.5" cy="422" r="1.9" fill="none" stroke="#e0cff2" stroke-width="1.1" /><circle cx="207.5" cy="415.8" r="1.9" fill="none" stroke="#e0cff2" stroke-width="1.1" /><circle cx="207.5" cy="408.6" r="1.9" fill="none" stroke="#e0cff2" stroke-width="1.1" /><circle cx="207.5" cy="401.4" r="1.9" fill="none" stroke="#e0cff2" stroke-width="1.1" /><circle cx="217.7" cy="388.1" r="1.9" fill="none" stroke="#e0cff2" stroke-width="1.1" /><circle cx="224.7" cy="392.8" r="1.9" fill="none" stroke="#e0cff2" stroke-width="1.1" /><circle cx="226.5" cy="400.4" r="1.9" fill="none" stroke="#e0cff2" stroke-width="1.1" /><circle cx="226.5" cy="408.9" r="1.9" fill="none" stroke="#e0cff2" stroke-width="1.1" /><circle cx="226.5" cy="417.4" r="1.9" fill="none" stroke="#e0cff2" stroke-width="1.1" /><circle cx="226.5" cy="425.9" r="1.9" fill="none" stroke="#e0cff2" stroke-width="1.1" /><circle cx="226.5" cy="434.4" r="1.9" fill="none" stroke="#e0cff2" stroke-width="1.1" /><circle cx="226.5" cy="442.9" r="1.9" fill="none" stroke="#e0cff2" stroke-width="1.1" /><circle cx="226.5" cy="451.4" r="1.9" fill="none" stroke="#e0cff2" stroke-width="1.1" /><circle cx="226.5" cy="459.9" r="1.9" fill="none" stroke="#e0cff2" stroke-width="1.1" /><circle cx="226.5" cy="468.4" r="1.9" fill="none" stroke="#e0cff2" stroke-width="1.1" /><circle cx="226.5" cy="476.9" r="1.9" fill="none" stroke="#e0cff2" stroke-width="1.1" /><circle cx="226.5" cy="485.4" r="1.9" fill="none" stroke="#e0cff2" stroke-width="1.1" /><circle cx="223.7" cy="491.3" r="1.9" fill="none" stroke="#e0cff2" stroke-width="1.1" /><circle cx="212.6" cy="499.7" r="1.9" fill="none" stroke="#e0cff2" stroke-width="1.1" /><circle cx="201.1" cy="507.6" r="1.9" fill="none" stroke="#e0cff2" stroke-width="1.1" /><circle cx="189.6" cy="515.6" r="1.9" fill="none" stroke="#e0cff2" stroke-width="1.1" /><circle cx="178.1" cy="523.5" r="1.9" fill="none" stroke="#e0cff2" stroke-width="1.1" /><circle cx="166.5" cy="531.5" r="1.9" fill="none" stroke="#e0cff2" stroke-width="1.1" /><circle cx="155" cy="539.4" r="1.9" fill="none" stroke="#e0cff2" stroke-width="1.1" /><circle cx="143.5" cy="547.4" r="1.9" fill="none" stroke="#e0cff2" stroke-width="1.1" /><circle cx="132" cy="555.4" r="1.9" fill="none" stroke="#e0cff2" stroke-width="1.1" /><circle cx="120.5" cy="563.3" r="1.9" fill="none" stroke="#e0cff2" stroke-width="1.1" /><circle cx="108.9" cy="571.3" r="1.9" fill="none" stroke="#e0cff2" stroke-width="1.1" /><circle cx="97.4" cy="579.2" r="1.9" fill="none" stroke="#e0cff2" stroke-width="1.1" /><circle cx="85.9" cy="587.2" r="1.9" fill="none" stroke="#e0cff2" stroke-width="1.1" /><circle cx="70.5" cy="588" r="1.9" fill="none" stroke="#e0cff2" stroke-width="1.1" /><circle cx="70.5" cy="579.5" r="1.9" fill="none" stroke="#e0cff2" stroke-width="1.1" /><circle cx="70.5" cy="571" r="1.9" fill="none" stroke="#e0cff2" stroke-width="1.1" /><circle cx="70.5" cy="562.5" r="1.9" fill="none" stroke="#e0cff2" stroke-width="1.1" /><circle cx="70.5" cy="554" r="1.9" fill="none" stroke="#e0cff2" stroke-width="1.1" /><circle cx="70.5" cy="545.5" r="1.9" fill="none" stroke="#e0cff2" stroke-width="1.1" /><circle cx="70.5" cy="537" r="1.9" fill="none" stroke="#e0cff2" stroke-width="1.1" /><circle cx="70.5" cy="528.5" r="1.9" fill="none" stroke="#e0cff2" stroke-width="1.1" /><circle cx="73.7" cy="514" r="1.9" fill="none" stroke="#e0cff2" stroke-width="1.1" /><circle cx="79.7" cy="510.3" r="1.9" fill="none" stroke="#e0cff2" stroke-width="1.1" /><circle cx="85.7" cy="506.7" r="1.9" fill="none" stroke="#e0cff2" stroke-width="1.1" /><circle cx="91.6" cy="503" r="1.9" fill="none" stroke="#e0cff2" stroke-width="1.1" />
<g transform="rotate(-35 170 534)"><path d="M 163 522.5 L 174 522.5 A 5.5 11.5 0 0 0 174 545.5 L 163 545.5 A 5.5 11.5 0 0 1 163 522.5 Z" fill="#5a2f82" stroke="#1c1f48" stroke-width="1.4" /><ellipse cx="174" cy="534" rx="5.5" ry="11.5" fill="#532680" stroke="#1c1f48" stroke-width="1.4" /><ellipse cx="174" cy="534" rx="2.8" ry="5.8" fill="none" stroke="#1c1f48" stroke-width="1.1" /></g>
<polygon points="133.6,155 255.6,70 346.5,133 223,215.5" fill="#676b6b" stroke="#151a40" stroke-width="1.4" stroke-linejoin="round" /><polygon points="133.6,96.9 255.6,11.8 255.6,70 133.6,155" fill="#c0c7f2" stroke="#151a40" stroke-width="1.2" stroke-linejoin="round" /><polygon points="255.6,11.8 346.5,74.3 346.5,133 255.6,70" fill="#c3c9f3" stroke="#151a40" stroke-width="1.2" stroke-linejoin="round" /><line x1="138.5" y1="143" x2="255.6" y2="61" stroke="#151a40" stroke-width="1.0" /><line x1="255.6" y1="61" x2="342" y2="121" stroke="#151a40" stroke-width="1.0" /><line x1="178" y1="73" x2="178" y2="124.1" stroke="#151a40" stroke-width="1.1" /><line x1="217" y1="46.4" x2="217" y2="96.9" stroke="#151a40" stroke-width="1.1" /><line x1="284" y1="38.9" x2="284" y2="89.7" stroke="#151a40" stroke-width="1.1" /><line x1="312.5" y1="57.9" x2="312.5" y2="109.4" stroke="#151a40" stroke-width="1.1" /><polygon points="133.6,96.9 255.6,11.8 255.6,20.8 139.5,101" fill="#5664cf" stroke="#151a40" stroke-width="1.2" stroke-linejoin="round" /><polygon points="255.6,11.8 346.5,74.3 341,78.5 255.6,20.8" fill="#5664cf" stroke="#151a40" stroke-width="1.2" stroke-linejoin="round" /><polygon points="133.6,96.9 139.5,101 139.5,159 133.6,155" fill="#5664cf" stroke="#151a40" stroke-width="1.2" stroke-linejoin="round" /><polygon points="346.5,74.3 341,78.5 341,137 346.5,133" fill="#5664cf" stroke="#151a40" stroke-width="1.2" stroke-linejoin="round" /><line x1="255.6" y1="20.3" x2="255.6" y2="70" stroke="#151a40" stroke-width="1.2" /><ellipse cx="169" cy="100" rx="2.9" ry="4.4" fill="#b4bdee" stroke="#151a40" stroke-width="1.1" transform="rotate(20 169 100)"/><ellipse cx="169" cy="111.5" rx="2.9" ry="4.4" fill="#b4bdee" stroke="#151a40" stroke-width="1.1" transform="rotate(20 169 111.5)"/><ellipse cx="198" cy="80" rx="2.9" ry="4.4" fill="#b4bdee" stroke="#151a40" stroke-width="1.1" transform="rotate(20 198 80)"/><ellipse cx="208" cy="74.5" rx="2.9" ry="4.4" fill="#b4bdee" stroke="#151a40" stroke-width="1.1" transform="rotate(20 208 74.5)"/><ellipse cx="208.5" cy="85.5" rx="2.9" ry="4.4" fill="#b4bdee" stroke="#151a40" stroke-width="1.1" transform="rotate(20 208.5 85.5)"/><ellipse cx="243.5" cy="49" rx="2.9" ry="4.4" fill="#b4bdee" stroke="#151a40" stroke-width="1.1" transform="rotate(20 243.5 49)"/><ellipse cx="243.5" cy="60.5" rx="2.9" ry="4.4" fill="#b4bdee" stroke="#151a40" stroke-width="1.1" transform="rotate(20 243.5 60.5)"/><ellipse cx="272.5" cy="41" rx="2.9" ry="4.4" fill="#b4bdee" stroke="#151a40" stroke-width="1.1" transform="rotate(20 272.5 41)"/><ellipse cx="272.5" cy="52" rx="2.9" ry="4.4" fill="#b4bdee" stroke="#151a40" stroke-width="1.1" transform="rotate(20 272.5 52)"/><ellipse cx="272.5" cy="63" rx="2.9" ry="4.4" fill="#b4bdee" stroke="#151a40" stroke-width="1.1" transform="rotate(20 272.5 63)"/><ellipse cx="302.5" cy="62" rx="2.9" ry="4.4" fill="#b4bdee" stroke="#151a40" stroke-width="1.1" transform="rotate(20 302.5 62)"/><ellipse cx="302.5" cy="73.5" rx="2.9" ry="4.4" fill="#b4bdee" stroke="#151a40" stroke-width="1.1" transform="rotate(20 302.5 73.5)"/><ellipse cx="325.5" cy="77.5" rx="2.9" ry="4.4" fill="#b4bdee" stroke="#151a40" stroke-width="1.1" transform="rotate(20 325.5 77.5)"/><ellipse cx="325.5" cy="88.5" rx="2.9" ry="4.4" fill="#b4bdee" stroke="#151a40" stroke-width="1.1" transform="rotate(20 325.5 88.5)"/><ellipse cx="325.5" cy="99.5" rx="2.9" ry="4.4" fill="#b4bdee" stroke="#151a40" stroke-width="1.1" transform="rotate(20 325.5 99.5)"/>
<polygon points="214,101 219,98.5 219,124 214,126.5" fill="#f3ae4a" stroke="#151a40" stroke-width="1.0" stroke-linejoin="round" /><polygon points="219,98.5 236,77 270,98 270,133 244,146 219,124" fill="#fcdba0" stroke="#151a40" stroke-width="1.1" stroke-linejoin="round" /><polygon points="236,77 247,73 280,99 270,98" fill="#fde8c0" stroke="#151a40" stroke-width="1.0" stroke-linejoin="round" /><polygon points="270,98 280,99 280,134 270,133" fill="#f3ae4a" stroke="#151a40" stroke-width="1.0" stroke-linejoin="round" /><line x1="236" y1="77" x2="236" y2="90" stroke="#151a40" stroke-width="0.9" />
<polygon points="225,124 233,124 234,140 226,140" fill="#8196da" stroke="#151a40" stroke-width="1.0" stroke-linejoin="round" /><path d="M 222 110 Q 223 104 231 104 L 237 105 L 257 113 L 263 115 L 262 119 L 240 114 L 238 127 L 224 128 Z" fill="#d8363a" stroke="#151a40" stroke-width="1.0" /><ellipse cx="232" cy="100.5" rx="4.5" ry="5" fill="#f7c9a6" stroke="#151a40" stroke-width="1.0" /><path d="M 227.5 101 Q 227 93.5 234 94 Q 238.5 95.5 237 100 Q 233 97 229.5 103 Z" fill="#5a5148" stroke="#151a40" stroke-width="0.8" />
<polygon points="209,155.3 268,124 281,131 236,161" fill="#fde2b0" stroke="#151a40" stroke-width="1.1" stroke-linejoin="round" /><polygon points="209,155.3 236,161 236,195 209,183" fill="#f6b452" stroke="#151a40" stroke-width="1.2" stroke-linejoin="round" /><polygon points="236,161 281,131 281,168.5 236,195" fill="#fcd596" stroke="#151a40" stroke-width="1.2" stroke-linejoin="round" />
<polygon points="190,127 198,127 198.5,162 192.5,162" fill="#8196da" stroke="#151a40" stroke-width="1.0" stroke-linejoin="round" /><polygon points="198,127 207,127 205.5,160 200,160" fill="#7a8fd6" stroke="#151a40" stroke-width="1.0" stroke-linejoin="round" /><path d="M 185 116 Q 186 108 194 107 L 205 107 Q 213 109 213 118 L 211 124 L 209 129 L 189 129 L 187 124 Z" fill="#ffffff" stroke="#151a40" stroke-width="1.1" /><path d="M 195 108 L 199 113 L 203 108" fill="none" stroke="#151a40" stroke-width="1.0" /><path d="M 189 122 Q 196 126 203 122" fill="none" stroke="#151a40" stroke-width="0.9" /><ellipse cx="199.5" cy="102.5" rx="4.8" ry="5.4" fill="#f7c9a6" stroke="#151a40" stroke-width="1.0" /><path d="M 194.5 101 Q 198 94.5 205 99 L 204 103 Q 199 99.5 195.5 103 Z" fill="#e8893a" stroke="#151a40" stroke-width="0.8" /><ellipse cx="194.5" cy="163.5" rx="3.3" ry="1.8" fill="#111" stroke="#151a40" stroke-width="0.5" /><ellipse cx="203" cy="161.5" rx="3.3" ry="1.8" fill="#111" stroke="#151a40" stroke-width="0.5" /><polygon points="283,90 290,90 291,122 285,122" fill="#8196da" stroke="#151a40" stroke-width="1.0" stroke-linejoin="round" /><polygon points="290,90 296,90 295,118 290,118" fill="#7a8fd6" stroke="#151a40" stroke-width="1.0" stroke-linejoin="round" /><path d="M 272 74 Q 276 68 285 68 L 294 68 Q 302 70 302 79 L 300 91 L 283 92 L 279 82 L 273 81 Z" fill="#6cc04a" stroke="#151a40" stroke-width="1.0" /><path d="M 296 78 L 300 88 L 295 92" fill="none" stroke="#151a40" stroke-width="1.0" /><ellipse cx="287.5" cy="63.5" rx="4.8" ry="5" fill="#1e1e22" stroke="#151a40" stroke-width="0.8" /><ellipse cx="289" cy="124" rx="3.3" ry="1.6" fill="#111" stroke="#151a40" stroke-width="0.5" />
<line x1="559" y1="252" x2="616" y2="218" stroke="#222" stroke-width="3.2" /><line x1="559" y1="252" x2="616" y2="218" stroke="#ffffff" stroke-width="1.2" /><path d="M 603.8 198.5 Q 662 194 666.5 118" fill="none" stroke="#222" stroke-width="1.1" /><path d="M 614.3 205.5 Q 674 205 676 122.3" fill="none" stroke="#222" stroke-width="1.1" /><path d="M 624.3 212.5 Q 708 214 708.5 146" fill="none" stroke="#222" stroke-width="1.1" /><path d="M 634.5 219.5 Q 720 222 718 151" fill="none" stroke="#222" stroke-width="1.1" /><path d="M 706 132 Q 732 122 750 100" fill="none" stroke="#222" stroke-width="1.2" />
<polygon points="496.6,284 530.5,262 586.6,294.4 552.7,316" fill="#c9c9c9" stroke="#15172e" stroke-width="1.1" stroke-linejoin="round" /><polygon points="496.6,284 552.7,316 552.7,345.5 496.6,313" fill="#a9a9a9" stroke="#15172e" stroke-width="1.2" stroke-linejoin="round" /><polygon points="552.7,316 586.6,294.4 586.6,325 552.7,345.5" fill="#858585" stroke="#15172e" stroke-width="1.2" stroke-linejoin="round" /><path d="M 505 282 L 507.3 272 L 542.8 248.2 C 548 244.5, 556 246, 563 252 C 572 260, 579 274, 580 291.5 L 546.5 313 Z" fill="#cbcbcb" stroke="#15172e" stroke-width="1.2" stroke-linejoin="round"/><path d="M 503.5 280 C 504 272, 508 268, 514 268.5 C 526 269.5, 537 281, 541.5 293 C 544 300, 545.5 307, 546.5 313 Z" fill="#d3d3d3" stroke="#15172e" stroke-width="1.2" stroke-linejoin="round"/><polygon points="496.6,284 503.5,279.5 506,281 500,286.5" fill="#bdbdbd" stroke="#15172e" stroke-width="0.9" stroke-linejoin="round" /><ellipse cx="523" cy="293.5" rx="9.5" ry="12.5" fill="#bdbdbd" stroke="#15172e" stroke-width="1.2" transform="rotate(-30 523 293.5)"/><ellipse cx="520" cy="296" rx="6.5" ry="8.6" fill="#dadada" stroke="#15172e" stroke-width="1.2" transform="rotate(-30 520 296)"/><ellipse cx="518.5" cy="297" rx="3.4" ry="4.6" fill="#c6c6c6" stroke="#15172e" stroke-width="1.0" transform="rotate(-30 518.5 297)"/><line x1="518" y1="298.5" x2="510" y2="303.5" stroke="#15172e" stroke-width="7.6" /><line x1="518" y1="298.5" x2="510" y2="303.5" stroke="#d2d2d2" stroke-width="5.4" /><polygon points="545,250.5 551,246.5 559.5,250.5 553.5,255" fill="#d4d4d4" stroke="#15172e" stroke-width="1.0" stroke-linejoin="round" /><polygon points="545,250.5 553.5,255 553.5,259 545,254.5" fill="#a8a8a8" stroke="#15172e" stroke-width="1.0" stroke-linejoin="round" /><polygon points="553.5,255 559.5,250.5 559.5,254.5 553.5,259" fill="#8c8c8c" stroke="#15172e" stroke-width="1.0" stroke-linejoin="round" />
<polygon points="588,244 598,237.5 609,244 599,250.5" fill="#c6c6c6" stroke="#15172e" stroke-width="1.0" stroke-linejoin="round" /><polygon points="588,244 599,250.5 599,255 588,248.5" fill="#9a9a9a" stroke="#15172e" stroke-width="1.0" stroke-linejoin="round" /><polygon points="599,250.5 609,244 609,248.5 599,255" fill="#7c7c7c" stroke="#15172e" stroke-width="1.0" stroke-linejoin="round" /><polygon points="594.5,201 599.5,201 599.5,246 594.5,246" fill="#b8b8b8" stroke="#15172e" stroke-width="1.0" stroke-linejoin="round" /><polygon points="599.5,201 603.5,198.5 603.5,243.5 599.5,246" fill="#8e8e8e" stroke="#15172e" stroke-width="1.0" stroke-linejoin="round" /><polygon points="628,271 638,264.5 649,271 639,277.5" fill="#c6c6c6" stroke="#15172e" stroke-width="1.0" stroke-linejoin="round" /><polygon points="628,271 639,277.5 639,282 628,275.5" fill="#9a9a9a" stroke="#15172e" stroke-width="1.0" stroke-linejoin="round" /><polygon points="639,277.5 649,271 649,275.5 639,282" fill="#7c7c7c" stroke="#15172e" stroke-width="1.0" stroke-linejoin="round" /><line x1="604" y1="228" x2="634.5" y2="248" stroke="#15172e" stroke-width="2.6" /><line x1="604" y1="228" x2="634.5" y2="248" stroke="#bbbbbb" stroke-width="1.0" /><polygon points="634.5,228 639.5,228 639.5,273 634.5,273" fill="#b8b8b8" stroke="#15172e" stroke-width="1.0" stroke-linejoin="round" /><polygon points="639.5,228 643.5,225.5 643.5,270.5 639.5,273" fill="#8e8e8e" stroke="#15172e" stroke-width="1.0" stroke-linejoin="round" /><polygon points="594.5,201 599.5,197.5 643.5,225.5 639.5,228.5" fill="#d0d0d0" stroke="#15172e" stroke-width="1.0" stroke-linejoin="round" /><polygon points="594.5,201 639.5,228.5 639.5,233 594.5,205.5" fill="#a6a6a6" stroke="#15172e" stroke-width="1.0" stroke-linejoin="round" /><polygon points="601.8,199.5 601.8,195.5 605.8,195.5 605.8,199.5" fill="#c0c0c0" stroke="#15172e" stroke-width="0.8" stroke-linejoin="round" /><ellipse cx="603.8" cy="195.5" rx="2" ry="1" fill="#dddddd" stroke="#15172e" stroke-width="0.6" /><polygon points="612.3,206 612.3,202 616.3,202 616.3,206" fill="#c0c0c0" stroke="#15172e" stroke-width="0.8" stroke-linejoin="round" /><ellipse cx="614.3" cy="202" rx="2" ry="1" fill="#dddddd" stroke="#15172e" stroke-width="0.6" /><polygon points="622.3,213 622.3,209 626.3,209 626.3,213" fill="#c0c0c0" stroke="#15172e" stroke-width="0.8" stroke-linejoin="round" /><ellipse cx="624.3" cy="209" rx="2" ry="1" fill="#dddddd" stroke="#15172e" stroke-width="0.6" /><polygon points="632.5,220 632.5,216 636.5,216 636.5,220" fill="#c0c0c0" stroke="#15172e" stroke-width="0.8" stroke-linejoin="round" /><ellipse cx="634.5" cy="216" rx="2" ry="1" fill="#dddddd" stroke="#15172e" stroke-width="0.6" />
<line x1="559" y1="252" x2="612" y2="220" stroke="#222" stroke-width="3.0" /><line x1="559" y1="252" x2="612" y2="220" stroke="#f4f4f4" stroke-width="1.0" />
<line x1="686" y1="128" x2="668" y2="210" stroke="#161616" stroke-width="3.0" /><line x1="694" y1="138" x2="697" y2="228" stroke="#161616" stroke-width="3.0" /><line x1="701" y1="133" x2="719" y2="219" stroke="#161616" stroke-width="3.0" /><line x1="692" y1="126" x2="690" y2="200" stroke="#161616" stroke-width="2.0" /><line x1="686" y1="128" x2="694.7" y2="157.8" stroke="#161616" stroke-width="1.7" /><line x1="694" y1="138" x2="682" y2="146" stroke="#161616" stroke-width="1.7" /><line x1="694" y1="138" x2="705" y2="151.9" stroke="#161616" stroke-width="1.7" /><line x1="701" y1="133" x2="694.7" y2="157.8" stroke="#161616" stroke-width="1.7" /><line x1="682" y1="146" x2="694.7" y2="157.8" stroke="#161616" stroke-width="1.1" /><line x1="694.7" y1="157.8" x2="705" y2="151.9" stroke="#161616" stroke-width="1.1" /><line x1="682" y1="146" x2="695.4" y2="178.5" stroke="#161616" stroke-width="1.7" /><line x1="694.7" y1="157.8" x2="677.9" y2="164.9" stroke="#161616" stroke-width="1.7" /><line x1="694.7" y1="157.8" x2="709.1" y2="171.7" stroke="#161616" stroke-width="1.7" /><line x1="705" y1="151.9" x2="695.4" y2="178.5" stroke="#161616" stroke-width="1.7" /><line x1="677.9" y1="164.9" x2="695.4" y2="178.5" stroke="#161616" stroke-width="1.1" /><line x1="695.4" y1="178.5" x2="709.1" y2="171.7" stroke="#161616" stroke-width="1.1" /><line x1="677.9" y1="164.9" x2="696.1" y2="201" stroke="#161616" stroke-width="1.7" /><line x1="695.4" y1="178.5" x2="673.4" y2="185.4" stroke="#161616" stroke-width="1.7" /><line x1="695.4" y1="178.5" x2="713.6" y2="193.2" stroke="#161616" stroke-width="1.7" /><line x1="709.1" y1="171.7" x2="696.1" y2="201" stroke="#161616" stroke-width="1.7" /><line x1="673.4" y1="185.4" x2="696.1" y2="201" stroke="#161616" stroke-width="1.1" /><line x1="696.1" y1="201" x2="713.6" y2="193.2" stroke="#161616" stroke-width="1.1" /><line x1="673.4" y1="185.4" x2="697" y2="228" stroke="#161616" stroke-width="1.7" /><line x1="696.1" y1="201" x2="668" y2="210" stroke="#161616" stroke-width="1.7" /><line x1="696.1" y1="201" x2="719" y2="219" stroke="#161616" stroke-width="1.7" /><line x1="713.6" y1="193.2" x2="697" y2="228" stroke="#161616" stroke-width="1.7" /><line x1="668" y1="210" x2="697" y2="228" stroke="#161616" stroke-width="1.1" /><line x1="697" y1="228" x2="719" y2="219" stroke="#161616" stroke-width="1.1" /><polygon points="662,210 674,210 668,214" fill="#888" stroke="#161616" stroke-width="1.0" stroke-linejoin="round" /><polygon points="691,228 703,228 697,232" fill="#888" stroke="#161616" stroke-width="1.0" stroke-linejoin="round" /><polygon points="713,219 725,219 719,223" fill="#888" stroke="#161616" stroke-width="1.0" stroke-linejoin="round" /><polygon points="661.5,105.5 725.5,148.5 724,154.5 663,112" fill="#f0f0f0" stroke="#161616" stroke-width="1.6" stroke-linejoin="round" /><path d="M 661.5 105.5 L 668.5 115.9 M 663 112 L 667.3 109.4 M 667.3 109.4 L 674.1 119.7 M 668.5 115.9 L 673.1 113.3 M 673.1 113.3 L 679.6 123.6 M 674.1 119.7 L 679 117.2 M 679 117.2 L 685.2 127.5 M 679.6 123.6 L 684.8 121.1 M 684.8 121.1 L 690.7 131.3 M 685.2 127.5 L 690.6 125 M 690.6 125 L 696.3 135.2 M 690.7 131.3 L 696.4 129 M 696.4 129 L 701.8 139 M 696.3 135.2 L 702.2 132.9 M 702.2 132.9 L 707.4 142.9 M 701.8 139 L 708 136.8 M 708 136.8 L 712.9 146.8 M 707.4 142.9 L 713.9 140.7 M 713.9 140.7 L 718.5 150.6 M 712.9 146.8 L 719.7 144.6 M 719.7 144.6 L 724 154.5 M 718.5 150.6 L 725.5 148.5 " fill="none" stroke="#161616" stroke-width="1.2" /><line x1="661.5" y1="105.5" x2="725.5" y2="148.5" stroke="#161616" stroke-width="2.2" /><polygon points="663.2,112 668.4,112 668.4,119 663.2,119" fill="#3a3a3a" stroke="#161616" stroke-width="1.0" stroke-linejoin="round" /><line x1="663.2" y1="114.5" x2="668.4" y2="114.5" stroke="#999" stroke-width="0.7" /><line x1="663.2" y1="116.8" x2="668.4" y2="116.8" stroke="#999" stroke-width="0.7" /><polygon points="673.6,119 678.8,119 678.8,126 673.6,126" fill="#3a3a3a" stroke="#161616" stroke-width="1.0" stroke-linejoin="round" /><line x1="673.6" y1="121.5" x2="678.8" y2="121.5" stroke="#999" stroke-width="0.7" /><line x1="673.6" y1="123.8" x2="678.8" y2="123.8" stroke="#999" stroke-width="0.7" /><polygon points="705.2,140.5 710.4,140.5 710.4,147.5 705.2,147.5" fill="#3a3a3a" stroke="#161616" stroke-width="1.0" stroke-linejoin="round" /><line x1="705.2" y1="143" x2="710.4" y2="143" stroke="#999" stroke-width="0.7" /><line x1="705.2" y1="145.3" x2="710.4" y2="145.3" stroke="#999" stroke-width="0.7" /><polygon points="716.2,148 721.4,148 721.4,155 716.2,155" fill="#3a3a3a" stroke="#161616" stroke-width="1.0" stroke-linejoin="round" /><line x1="716.2" y1="150.5" x2="721.4" y2="150.5" stroke="#999" stroke-width="0.7" /><line x1="716.2" y1="152.8" x2="721.4" y2="152.8" stroke="#999" stroke-width="0.7" /><polygon points="688.5,127.5 693.5,124.5 698.5,127.5 693.5,130.5" fill="#b8b8b8" stroke="#161616" stroke-width="0.9" stroke-linejoin="round" />
<polygon points="740.5,70 781.4,12 824,12 901,65.7 898,122.7 820,177 742.8,122.7" fill="#fde6ca" stroke="#15172e" stroke-width="1.2" stroke-linejoin="round" /><polygon points="742,70 781.4,25 820,47 820,68.5 742.8,122.7" fill="#fde2c4" stroke="none" stroke-width="1" stroke-linejoin="round" /><polygon points="820,47 899,66 898,122.7 820,68.5" fill="#fde6cc" stroke="none" stroke-width="1" stroke-linejoin="round" /><polygon points="742.8,122.7 820,68.5 898,122.7 820,177" fill="#fe960c" stroke="#15172e" stroke-width="1.1" stroke-linejoin="round" /><line x1="741" y1="101" x2="820.5" y2="50" stroke="#15172e" stroke-width="1.8" /><line x1="741" y1="68" x2="790" y2="101" stroke="#15172e" stroke-width="1.1" /><line x1="742" y1="72.5" x2="790" y2="105" stroke="#15172e" stroke-width="1.1" /><polyline points="820.5,49.5 860,66 901,66" fill="none" stroke="#15172e" stroke-width="1.1" stroke-linejoin="round" stroke-linecap="butt" /><line x1="820.5" y1="39" x2="820.5" y2="68.5" stroke="#15172e" stroke-width="1.1" /><line x1="820" y1="128" x2="820" y2="177" stroke="#15172e" stroke-width="1.0" /><line x1="741" y1="68" x2="742.8" y2="122.7" stroke="#15172e" stroke-width="1.2" /><line x1="899" y1="66" x2="898" y2="122.7" stroke="#15172e" stroke-width="1.2" /><line x1="781.4" y1="12" x2="842" y2="58" stroke="#15172e" stroke-width="1.1" /><polygon points="763,23 777,13 791.5,21.5 777.5,31.5" fill="#5a2d90" stroke="#15172e" stroke-width="1.1" stroke-linejoin="round" /><polygon points="763,23 777.5,31.5 777.5,53 763,44" fill="#e02a38" stroke="#15172e" stroke-width="1.1" stroke-linejoin="round" /><polygon points="777.5,31.5 791.5,21.5 791.5,43 777.5,53" fill="#b81e2c" stroke="#15172e" stroke-width="1.1" stroke-linejoin="round" /><polygon points="744,92 753,88 761,93 752,97" fill="#c81e28" stroke="#15172e" stroke-width="1.0" stroke-linejoin="round" /><polygon points="744,92 752,97 752,115 744,110" fill="#d82a36" stroke="#15172e" stroke-width="1.0" stroke-linejoin="round" /><polygon points="752,97 761,93 761,110 752,115" fill="#b01a26" stroke="#15172e" stroke-width="1.0" stroke-linejoin="round" /><path d="M 761 100 Q 790 80 820 55" fill="none" stroke="#111" stroke-width="1.1" /><polygon points="833,65 845,58 867,70 855,77" fill="#6a6a6a" stroke="#15172e" stroke-width="1.0" stroke-linejoin="round" /><polygon points="833,65 855,77 855,94 833,82" fill="#4d4f52" stroke="#15172e" stroke-width="1.0" stroke-linejoin="round" /><polygon points="836,70 852,79 852,90 836,81" fill="#9aa6e0" stroke="#15172e" stroke-width="0.8" stroke-linejoin="round" /><polygon points="855,77 867,70 867,88 855,94" fill="#5c5c5c" stroke="#15172e" stroke-width="1.0" stroke-linejoin="round" /><line x1="838" y1="84" x2="836" y2="96" stroke="#15172e" stroke-width="1.2" /><line x1="850" y1="92" x2="850" y2="101" stroke="#15172e" stroke-width="1.2" /><line x1="862" y1="90" x2="862" y2="98" stroke="#15172e" stroke-width="1.2" /><line x1="879.5" y1="88" x2="879.5" y2="121" stroke="#15172e" stroke-width="3.0" /><line x1="879.5" y1="88" x2="879.5" y2="121" stroke="#cccccc" stroke-width="1.6" /><ellipse cx="879.5" cy="121" rx="10.5" ry="5" fill="#9a9a9a" stroke="#15172e" stroke-width="1.0" /><path d="M 864 83 Q 864 93 879.5 93 Q 895 93 895 83 Q 895 73 879.5 72.5 Q 864 73 864 83 Z" fill="#fe960c" stroke="#15172e" stroke-width="1.1" /><ellipse cx="878.5" cy="77" rx="7.2" ry="4.6" fill="#ffffff" stroke="#15172e" stroke-width="0.9" /><path d="M 878.5 77 L 878.5 72.6 M 878.5 77 L 872.5 79.5 M 878.5 77 L 884.5 79.5" fill="none" stroke="#15172e" stroke-width="0.8" /><path d="M 786 108 Q 784 100 792 98 L 808 104 L 822 114 L 826 122 L 822 134 L 809 141 L 795 134 L 786 124 Z" fill="#3a55c6" stroke="#15172e" stroke-width="1.1" /><path d="M 786 108 L 806 118 L 810 140" fill="none" stroke="#15172e" stroke-width="1.0" /><path d="M 800 96 L 813 103 L 820 110 L 812 112 L 801 104 Z" fill="#ffffff" stroke="#15172e" stroke-width="1.0" /><path d="M 812 108 L 828 104 L 840 107 L 838 110 L 826 109 L 818 113 Z" fill="#2c3f9c" stroke="#15172e" stroke-width="0.9" /><ellipse cx="800" cy="90" rx="4" ry="4.5" fill="#1a1a1a" stroke="#15172e" stroke-width="0.8" /><ellipse cx="802.5" cy="92" rx="2" ry="2.4" fill="#f0c8a8" stroke="none" stroke-width="1" /><line x1="815" y1="75" x2="828" y2="68" stroke="#ffffff" stroke-width="1.6" /><line x1="816" y1="83" x2="826" y2="81" stroke="#ffffff" stroke-width="1.6" /><line x1="848" y1="103" x2="858" y2="97" stroke="#ffffff" stroke-width="1.6" />
<path d="M 622 149 l 6 5 l 1 -3 l 6 9" fill="none" stroke="#dc2a2a" stroke-width="2.3" stroke-linejoin="miter" stroke-linecap="round"/><path d="M 556 224 l 6 5 l 1 -3 l 6 9" fill="none" stroke="#dc2a2a" stroke-width="2.3" stroke-linejoin="miter" stroke-linecap="round"/><path d="M 701 104 l 6 5 l 1 -3 l 6 9" fill="none" stroke="#dc2a2a" stroke-width="2.3" stroke-linejoin="miter" stroke-linecap="round"/>
<path d="M 241 439 L 322 383 Q 329 378 329 386 L 329 446" fill="none" stroke="#141a48" stroke-width="12.4" stroke-linejoin="round"/>
<path d="M 241 439 L 322 383 Q 329 378 329 386 L 329 446" fill="none" stroke="#3350c4" stroke-width="9.8" stroke-linejoin="round"/>
<ellipse cx="241" cy="439" rx="3.2" ry="4.5" fill="#3a4a7a" stroke="#141a48" stroke-width="0.9" transform="rotate(-34 241 439)"/>
<circle cx="250" cy="433" r="1.9" fill="none" stroke="#dfe6ff" stroke-width="1.1" /><circle cx="261.5" cy="425" r="1.9" fill="none" stroke="#dfe6ff" stroke-width="1.1" /><circle cx="273" cy="417" r="1.9" fill="none" stroke="#dfe6ff" stroke-width="1.1" /><circle cx="284.5" cy="409" r="1.9" fill="none" stroke="#dfe6ff" stroke-width="1.1" /><circle cx="296" cy="401.1" r="1.9" fill="none" stroke="#dfe6ff" stroke-width="1.1" /><circle cx="307.5" cy="393.1" r="1.9" fill="none" stroke="#dfe6ff" stroke-width="1.1" /><circle cx="319" cy="385.1" r="1.9" fill="none" stroke="#dfe6ff" stroke-width="1.1" /><circle cx="329" cy="398" r="1.9" fill="none" stroke="#dfe6ff" stroke-width="1.1" /><circle cx="329" cy="422" r="1.9" fill="none" stroke="#dfe6ff" stroke-width="1.1" />
<polygon points="362.7,304 440,249 519.6,302.5 519.6,398.5 440,453 362.7,400" fill="url(#tbair)" stroke="none" stroke-width="1" stroke-linejoin="round" />
<path d="M 366 318 a 2.5 2.5 0 0 1 5.1 0.2 a 3.3 3.3 0 0 1 6.5 -0.1 a 2.6 2.6 0 0 1 5.2 0.3 a 2.1 2.1 0 0 1 4.2 0" fill="none" stroke="#ffffff" stroke-width="1.4" stroke-linecap="round" opacity="0.9"/><path d="M 370 336 a 2.6 2.6 0 0 1 5.2 0.9 a 1.8 1.8 0 0 1 3.6 -0.6 a 1.8 1.8 0 0 1 3.6 0.9 a 2.7 2.7 0 0 1 5.4 -1.4 a 3.1 3.1 0 0 1 6.2 1.4" fill="none" stroke="#ffffff" stroke-width="1.4" stroke-linecap="round" opacity="0.9"/><path d="M 368 352 a 2.8 2.8 0 0 1 5.7 0.3 a 2.1 2.1 0 0 1 4.1 -1.5 a 2.6 2.6 0 0 1 5.3 -1.3 a 2.1 2.1 0 0 1 4.2 -0.8 a 1.9 1.9 0 0 1 3.7 -0.1" fill="none" stroke="#ffffff" stroke-width="1.4" stroke-linecap="round" opacity="0.9"/><path d="M 384 304 a 2.3 2.3 0 0 1 4.6 1 a 2.4 2.4 0 0 1 4.9 0.4 a 2.4 2.4 0 0 1 4.8 0.5 a 2.3 2.3 0 0 1 4.7 -0.7" fill="none" stroke="#ffffff" stroke-width="1.4" stroke-linecap="round" opacity="0.9"/><path d="M 396 294 a 3.1 3.1 0 0 1 6.2 1.5 a 2.9 2.9 0 0 1 5.8 0.6 a 2.1 2.1 0 0 1 4.3 -0.8" fill="none" stroke="#ffffff" stroke-width="1.4" stroke-linecap="round" opacity="0.9"/><path d="M 420 282 a 2.2 2.2 0 0 1 4.4 -1.3 a 2.9 2.9 0 0 1 5.8 -0.3 a 3 3 0 0 1 6 -0.3 a 3.2 3.2 0 0 1 6.4 1" fill="none" stroke="#ffffff" stroke-width="1.4" stroke-linecap="round" opacity="0.9"/><path d="M 446 266 a 1.5 1.5 0 0 1 3.1 -0.9 a 2.7 2.7 0 0 1 5.5 -0.1 a 2.8 2.8 0 0 1 5.7 -0.3" fill="none" stroke="#ffffff" stroke-width="1.4" stroke-linecap="round" opacity="0.9"/><path d="M 452 280 a 1.8 1.8 0 0 1 3.6 0.4 a 2.8 2.8 0 0 1 5.6 -0.7 a 1.8 1.8 0 0 1 3.6 -0.5" fill="none" stroke="#ffffff" stroke-width="1.4" stroke-linecap="round" opacity="0.9"/><path d="M 470 276 a 2.8 2.8 0 0 1 5.6 0.8 a 1.7 1.7 0 0 1 3.4 -0.8 a 1.7 1.7 0 0 1 3.3 -1.3 a 2.6 2.6 0 0 1 5.2 -1" fill="none" stroke="#ffffff" stroke-width="1.4" stroke-linecap="round" opacity="0.9"/><path d="M 488 290 a 2.5 2.5 0 0 1 5 -0.2 a 2 2 0 0 1 3.9 0.7 a 1.9 1.9 0 0 1 3.7 0.4 a 1.8 1.8 0 0 1 3.7 -0.2" fill="none" stroke="#ffffff" stroke-width="1.4" stroke-linecap="round" opacity="0.9"/><path d="M 500 308 a 2 2 0 0 1 4 -0.7 a 3.1 3.1 0 0 1 6.2 0.9 a 2.1 2.1 0 0 1 4.2 1.2" fill="none" stroke="#ffffff" stroke-width="1.4" stroke-linecap="round" opacity="0.9"/><path d="M 380 326 a 1.7 1.7 0 0 1 3.3 -0.3 a 2.4 2.4 0 0 1 4.9 0.4 a 1.5 1.5 0 0 1 3 1.5 a 1.7 1.7 0 0 1 3.3 -0.7" fill="none" stroke="#ffffff" stroke-width="1.4" stroke-linecap="round" opacity="0.9"/><path d="M 426 300 a 2.6 2.6 0 0 1 5.1 -0.5 a 1.9 1.9 0 0 1 3.9 -1.3 a 1.7 1.7 0 0 1 3.3 0.2" fill="none" stroke="#ffffff" stroke-width="1.4" stroke-linecap="round" opacity="0.9"/><path d="M 392 342 a 1.7 1.7 0 0 1 3.4 0.3 a 1.8 1.8 0 0 1 3.7 -0.1 a 2.6 2.6 0 0 1 5.1 -0" fill="none" stroke="#ffffff" stroke-width="1.4" stroke-linecap="round" opacity="0.9"/><path d="M 495 325 a 2.3 2.3 0 0 1 4.6 1.1 a 1.8 1.8 0 0 1 3.6 -1 a 2.7 2.7 0 0 1 5.5 1" fill="none" stroke="#ffffff" stroke-width="1.4" stroke-linecap="round" opacity="0.9"/>
<polygon points="363.5,373 440,320 519,371.5 440,426" fill="#3d58cc" stroke="none" stroke-width="1" stroke-linejoin="round" /><polygon points="363.5,373 440,426 440,453 362.7,400" fill="#3150c8" stroke="none" stroke-width="1" stroke-linejoin="round" /><polygon points="440,426 519,371.5 519.6,398.5 440,453" fill="#3150c8" stroke="none" stroke-width="1" stroke-linejoin="round" />
<path d="M 363.5 373 Q 371.1 364.2 378.8 362.4 Q 386.5 353.6 394.1 351.8 Q 401.8 343 409.4 341.2 Q 417 332.4 424.7 330.6 Q 432.4 321.8 440 320" fill="none" stroke="#141a48" stroke-width="1.1" stroke-linecap="round" /><path d="M 440 320 Q 447.9 321.6 455.8 330.3 Q 463.7 332 471.6 340.6 Q 479.5 342.2 487.4 350.9 Q 495.3 352.5 503.2 361.2 Q 511.1 362.9 519 371.5" fill="none" stroke="#141a48" stroke-width="1.1" stroke-linecap="round" /><path d="M 363.5 375 Q 369.9 375.9 376.2 383.8 Q 382.6 384.8 389 392.7 Q 395.4 393.6 401.8 401.5 Q 408.1 402.4 414.5 410.3 Q 420.9 411.2 427.2 419.2 Q 433.6 420.1 440 428" fill="none" stroke="#141a48" stroke-width="1.1" stroke-linecap="round" /><path d="M 440 428 Q 446.6 420 453.2 418.9 Q 459.8 410.9 466.3 409.8 Q 472.9 401.8 479.5 400.8 Q 486.1 392.7 492.7 391.7 Q 499.2 383.6 505.8 382.6 Q 512.4 374.5 519 373.5" fill="none" stroke="#141a48" stroke-width="1.1" stroke-linecap="round" /><path d="M 376 380 Q 382.1 379.4 388.2 385.8 Q 394.4 385.1 400.5 391.5 Q 406.6 390.9 412.8 397.2 Q 418.9 396.6 425 403" fill="none" stroke="#ffffff" stroke-width="1.6" stroke-linecap="round" /><path d="M 455 402 Q 461.2 395 467.5 395 Q 473.8 388 480 388 Q 486.2 381 492.5 381 Q 498.8 374 505 374" fill="none" stroke="#ffffff" stroke-width="1.6" stroke-linecap="round" /><path d="M 385 362 Q 390.8 355.3 396.7 354.7 Q 402.5 348 408.3 347.3 Q 414.2 340.7 420 340" fill="none" stroke="#ffffff" stroke-width="1.3" stroke-linecap="round" opacity="0.7"/><path d="M 391 369 C 388.2 373, 388.2 376, 391 376 C 393.8 376, 393.8 373, 391 369 Z" fill="#dfe6ff" stroke="none" stroke-width="1" /><path d="M 404 377 C 401.2 381, 401.2 384, 404 384 C 406.8 384, 406.8 381, 404 377 Z" fill="#dfe6ff" stroke="none" stroke-width="1" /><path d="M 418 385 C 415.2 389, 415.2 392, 418 392 C 420.8 392, 420.8 389, 418 385 Z" fill="#dfe6ff" stroke="none" stroke-width="1" /><path d="M 396 391 C 393.2 395, 393.2 398, 396 398 C 398.8 398, 398.8 395, 396 391 Z" fill="#dfe6ff" stroke="none" stroke-width="1" /><path d="M 412 397 C 409.2 401, 409.2 404, 412 404 C 414.8 404, 414.8 401, 412 397 Z" fill="#dfe6ff" stroke="none" stroke-width="1" /><path d="M 452 387 C 449.2 391, 449.2 394, 452 394 C 454.8 394, 454.8 391, 452 387 Z" fill="#dfe6ff" stroke="none" stroke-width="1" /><path d="M 470 379 C 467.2 383, 467.2 386, 470 386 C 472.8 386, 472.8 383, 470 379 Z" fill="#dfe6ff" stroke="none" stroke-width="1" /><path d="M 486 367 C 483.2 371, 483.2 374, 486 374 C 488.8 374, 488.8 371, 486 367 Z" fill="#dfe6ff" stroke="none" stroke-width="1" /><path d="M 500 359 C 497.2 363, 497.2 366, 500 366 C 502.8 366, 502.8 363, 500 359 Z" fill="#dfe6ff" stroke="none" stroke-width="1" /><path d="M 430 371 C 427.2 375, 427.2 378, 430 378 C 432.8 378, 432.8 375, 430 371 Z" fill="#dfe6ff" stroke="none" stroke-width="1" /><path d="M 462 365 C 459.2 369, 459.2 372, 462 372 C 464.8 372, 464.8 369, 462 365 Z" fill="#dfe6ff" stroke="none" stroke-width="1" /><path d="M 445 403 C 442.2 407, 442.2 410, 445 410 C 447.8 410, 447.8 407, 445 403 Z" fill="#dfe6ff" stroke="none" stroke-width="1" /><path d="M 428 405 C 425.2 409, 425.2 412, 428 412 C 430.8 412, 430.8 409, 428 405 Z" fill="#dfe6ff" stroke="none" stroke-width="1" /><circle cx="372" cy="388" r="1.9" fill="none" stroke="#e6ecff" stroke-width="1.1" /><circle cx="386" cy="398" r="1.9" fill="none" stroke="#e6ecff" stroke-width="1.1" /><circle cx="404" cy="410" r="1.9" fill="none" stroke="#e6ecff" stroke-width="1.1" /><circle cx="420" cy="422" r="1.9" fill="none" stroke="#e6ecff" stroke-width="1.1" /><circle cx="432" cy="440" r="1.9" fill="none" stroke="#e6ecff" stroke-width="1.1" /><circle cx="382" cy="414" r="1.9" fill="none" stroke="#e6ecff" stroke-width="1.1" /><circle cx="400" cy="428" r="1.9" fill="none" stroke="#e6ecff" stroke-width="1.1" /><circle cx="454" cy="442" r="1.9" fill="none" stroke="#e6ecff" stroke-width="1.1" /><circle cx="470" cy="432" r="1.9" fill="none" stroke="#e6ecff" stroke-width="1.1" /><circle cx="486" cy="421" r="1.9" fill="none" stroke="#e6ecff" stroke-width="1.1" /><circle cx="502" cy="410" r="1.9" fill="none" stroke="#e6ecff" stroke-width="1.1" /><circle cx="512" cy="392" r="1.9" fill="none" stroke="#e6ecff" stroke-width="1.1" /><circle cx="466" cy="446" r="1.9" fill="none" stroke="#e6ecff" stroke-width="1.1" />
<line x1="440" y1="249" x2="440" y2="294" stroke="#141a48" stroke-width="1.2" /><g transform="rotate(-38 475 326)"><ellipse cx="475" cy="326" rx="26" ry="52" fill="#5a6cca" stroke="#141a48" stroke-width="1.3" /><path d="M 486.7 326 L 499.8 335 M 486.6 329.5 L 498.9 342.3 M 486.2 332.9 L 497.4 349.3 M 485.5 336.2 L 495.4 355.7 M 484.7 339.2 L 493 361.4 M 483.6 341.9 L 490.1 366.4 M 482.3 344.3 L 486.9 370.4 M 480.9 346.3 L 483.5 373.5 M 479.3 347.8 L 479.9 375.5 M 477.6 348.8 L 476.1 376.4 M 475.9 349.3 L 472.4 376.2 M 474.1 349.3 L 468.6 374.8 M 472.4 348.8 L 465.1 372.4 M 470.7 347.8 L 461.7 368.9 M 469.1 346.3 L 458.7 364.5 M 467.7 344.3 L 456 359.2 M 466.4 341.9 L 453.7 353.1 M 465.3 339.2 L 452 346.5 M 464.5 336.2 L 450.7 339.4 M 463.8 332.9 L 450 332 M 463.4 329.5 L 449.8 324.5 M 463.3 326 L 450.2 317 M 463.4 322.5 L 451.1 309.7 M 463.8 319.1 L 452.6 302.7 M 464.5 315.8 L 454.6 296.3 M 465.3 312.8 L 457 290.6 M 466.4 310.1 L 459.9 285.6 M 467.7 307.7 L 463.1 281.6 M 469.1 305.7 L 466.5 278.5 M 470.7 304.2 L 470.1 276.5 M 472.4 303.2 L 473.9 275.6 M 474.1 302.7 L 477.6 275.8 M 475.9 302.7 L 481.4 277.2 M 477.6 303.2 L 484.9 279.6 M 479.3 304.2 L 488.3 283.1 M 480.8 305.7 L 491.3 287.5 M 482.3 307.7 L 494 292.8 M 483.6 310.1 L 496.3 298.9 M 484.7 312.8 L 498 305.5 M 485.5 315.8 L 499.3 312.6 M 486.2 319.1 L 500 320 M 486.6 322.5 L 500.2 327.5 " fill="none" stroke="#141a52" stroke-width="1.5" /><ellipse cx="475" cy="326" rx="11.7" ry="23.4" fill="#161b48" stroke="#141a48" stroke-width="0.8" /></g><g transform="rotate(-38 466.2 332.3)"><ellipse cx="466.2" cy="332.3" rx="23" ry="45.7" fill="#5a6cca" stroke="#141a48" stroke-width="1.3" /><path d="M 476.5 332.3 L 488.1 340.3 M 476.4 335.8 L 487.1 347.5 M 475.9 339.2 L 485.5 354.3 M 475.2 342.4 L 483.4 360.5 M 474.2 345.2 L 480.7 365.9 M 473 347.8 L 477.7 370.3 M 471.6 349.8 L 474.3 373.6 M 470 351.4 L 470.6 375.7 M 468.3 352.4 L 466.9 376.6 M 466.6 352.9 L 463.1 376.2 M 464.9 352.7 L 459.4 374.6 M 463.1 352 L 455.9 371.7 M 461.5 350.7 L 452.7 367.7 M 460 348.9 L 449.9 362.7 M 458.7 346.6 L 447.6 356.8 M 457.6 343.8 L 445.7 350.2 M 456.7 340.8 L 444.5 343.1 M 456.2 337.5 L 443.9 335.6 M 455.9 334.1 L 444 328.1 M 455.9 330.6 L 444.6 320.7 M 456.2 327.2 L 445.9 313.7 M 456.7 323.9 L 447.8 307.2 M 457.6 320.8 L 450.2 301.4 M 458.7 318.1 L 453.1 296.5 M 460 315.8 L 456.3 292.6 M 461.5 314 L 459.9 289.8 M 463.1 312.7 L 463.6 288.3 M 464.9 311.9 L 467.3 288.1 M 466.6 311.8 L 471.1 289.1 M 468.3 312.2 L 474.7 291.4 M 470 313.3 L 478.1 294.9 M 471.6 314.8 L 481.1 299.4 M 473 316.9 L 483.7 304.9 M 474.2 319.4 L 485.8 311.1 M 475.2 322.3 L 487.3 318 M 475.9 325.5 L 488.2 325.3 M 476.4 328.9 L 488.5 332.8 " fill="none" stroke="#141a52" stroke-width="1.5" /><ellipse cx="466.2" cy="332.3" rx="10.3" ry="20.6" fill="#161b48" stroke="#141a48" stroke-width="0.8" /></g><g transform="rotate(-38 457.3 338.7)"><ellipse cx="457.3" cy="338.7" rx="20" ry="39.3" fill="#5161b9" stroke="#141a48" stroke-width="1.3" /><path d="M 466.3 338.7 L 476.4 345.5 M 466.2 342 L 475.4 352.5 M 465.7 345.2 L 473.8 359 M 464.9 348.2 L 471.5 364.7 M 463.8 350.9 L 468.8 369.5 M 462.6 353.1 L 465.6 373.2 M 461.1 354.8 L 462.1 375.6 M 459.5 355.9 L 458.5 376.8 M 457.8 356.3 L 454.8 376.5 M 456.1 356.2 L 451.2 374.8 M 454.4 355.4 L 447.8 371.9 M 452.8 354 L 444.8 367.8 M 451.4 352 L 442.2 362.6 M 450.3 349.6 L 440.2 356.5 M 449.3 346.8 L 438.8 349.8 M 448.7 343.7 L 438 342.7 M 448.4 340.3 L 438 335.4 M 448.4 337 L 438.7 328.3 M 448.7 333.7 L 440 321.5 M 449.3 330.6 L 442 315.4 M 450.3 327.7 L 444.5 310.1 M 451.4 325.3 L 447.5 305.8 M 452.8 323.3 L 450.8 302.7 M 454.4 321.9 L 454.4 301 M 456.1 321.1 L 458.1 300.5 M 457.8 321 L 461.7 301.5 M 459.5 321.5 L 465.2 303.8 M 461.1 322.6 L 468.4 307.4 M 462.6 324.2 L 471.2 312.1 M 463.8 326.5 L 473.5 317.7 M 464.9 329.1 L 475.3 324.1 M 465.7 332.1 L 476.3 331.1 M 466.2 335.3 L 476.7 338.3 " fill="none" stroke="#141a52" stroke-width="1.5" /><ellipse cx="457.3" cy="338.7" rx="9" ry="17.7" fill="#161b48" stroke="#141a48" stroke-width="0.8" /></g><g transform="rotate(-38 448.5 345)"><ellipse cx="448.5" cy="345" rx="17" ry="33" fill="#43519e" stroke="#141a48" stroke-width="1.3" /><path d="M 456.1 345 L 464.7 350.7 M 456 348.2 L 463.7 357.4 M 455.4 351.2 L 462 363.4 M 454.6 354 L 459.6 368.6 M 453.5 356.3 L 456.8 372.7 M 452.1 358.1 L 453.5 375.5 M 450.5 359.3 L 450 376.9 M 448.9 359.8 L 446.4 376.8 M 447.3 359.7 L 443 375.2 M 445.7 358.8 L 439.8 372.1 M 444.2 357.3 L 437 367.9 M 442.9 355.2 L 434.7 362.5 M 441.9 352.7 L 433.1 356.3 M 441.3 349.7 L 432.2 349.6 M 440.9 346.6 L 432.1 342.7 M 440.9 343.4 L 432.7 335.9 M 441.3 340.3 L 434.1 329.5 M 441.9 337.3 L 436.1 323.9 M 442.9 334.8 L 438.8 319.2 M 444.2 332.7 L 441.8 315.7 M 445.7 331.2 L 445.2 313.6 M 447.3 330.3 L 448.8 313 M 448.9 330.2 L 452.3 313.9 M 450.5 330.7 L 455.7 316.2 M 452.1 331.9 L 458.7 319.9 M 453.5 333.7 L 461.3 324.7 M 454.6 336 L 463.2 330.5 M 455.4 338.8 L 464.5 337 M 456 341.8 L 465 343.8 " fill="none" stroke="#29316b" stroke-width="1.5" /><ellipse cx="448.5" cy="345" rx="7.7" ry="14.8" fill="#161b48" stroke="#141a48" stroke-width="0.8" /></g><g transform="rotate(-38 439.7 351.3)"><ellipse cx="439.7" cy="351.3" rx="14" ry="26.7" fill="#354083" stroke="#141a48" stroke-width="1.3" /><path d="M 446 351.3 L 453 356 M 445.8 354.4 L 451.9 362.4 M 445.1 357.3 L 450 368.1 M 444.1 359.8 L 447.4 372.6 M 442.8 361.7 L 444.2 375.7 M 441.3 362.9 L 440.8 377.1 M 439.7 363.3 L 437.2 376.8 M 438 362.9 L 433.9 374.7 M 436.5 361.7 L 430.9 371.1 M 435.2 359.8 L 428.5 366.1 M 434.2 357.3 L 426.9 360 M 433.6 354.4 L 426.1 353.4 M 433.4 351.3 L 426.3 346.7 M 433.6 348.2 L 427.4 340.3 M 434.2 345.3 L 429.3 334.6 M 435.2 342.8 L 431.9 330.1 M 436.5 340.9 L 435.1 327 M 438 339.7 L 438.6 325.6 M 439.7 339.3 L 442.1 325.9 M 441.3 339.7 L 445.5 328 M 442.8 340.9 L 448.5 331.6 M 444.1 342.8 L 450.8 336.6 M 445.1 345.3 L 452.5 342.6 M 445.8 348.2 L 453.2 349.2 " fill="none" stroke="#46518c" stroke-width="1.5" /><ellipse cx="439.7" cy="351.3" rx="6.3" ry="12" fill="#161b48" stroke="#141a48" stroke-width="0.8" /></g><g transform="rotate(-38 430.8 357.7)"><ellipse cx="430.8" cy="357.7" rx="11" ry="20.3" fill="#272f68" stroke="#141a48" stroke-width="1.3" /><path d="M 435.8 357.7 L 441.3 361.2 M 435.5 360.5 L 440.2 367 M 434.8 363 L 438.2 371.9 M 433.7 365.1 L 435.5 375.4 M 432.4 366.4 L 432.3 377.2 M 430.8 366.8 L 428.9 377.1 M 429.3 366.4 L 425.8 375 M 427.9 365.1 L 423.1 371.3 M 426.8 363 L 421.2 366.2 M 426.1 360.5 L 420.3 360.3 M 425.9 357.7 L 420.3 354.1 M 426.1 354.8 L 421.4 348.3 M 426.8 352.3 L 423.5 343.4 M 427.9 350.3 L 426.2 339.9 M 429.3 349 L 429.4 338.1 M 430.8 348.5 L 432.7 338.3 M 432.4 349 L 435.9 340.3 M 433.7 350.3 L 438.5 344 M 434.8 352.3 L 440.4 349.1 M 435.5 354.8 L 441.4 355 " fill="none" stroke="#6370ae" stroke-width="1.5" /><ellipse cx="430.8" cy="357.7" rx="5" ry="9.2" fill="#161b48" stroke="#141a48" stroke-width="0.8" /></g><g transform="rotate(-38 422 364)"><ellipse cx="422" cy="364" rx="8" ry="14" fill="#1a1f4e" stroke="#141a48" stroke-width="1.3" /><path d="M 425.6 364 L 429.6 366.4 M 425.3 366.4 L 428.5 371.4 M 424.5 368.5 L 426.4 375.2 M 423.4 369.8 L 423.6 377.3 M 422 370.3 L 420.6 377.4 M 420.6 369.8 L 417.8 375.4 M 419.5 368.5 L 415.6 371.7 M 418.7 366.4 L 414.4 366.9 M 418.4 364 L 414.4 361.6 M 418.7 361.6 L 415.5 356.6 M 419.5 359.5 L 417.6 352.8 M 420.6 358.2 L 420.4 350.7 M 422 357.7 L 423.4 350.6 M 423.4 358.2 L 426.2 352.6 M 424.5 359.5 L 428.4 356.3 M 425.3 361.6 L 429.6 361.1 " fill="none" stroke="#8090d0" stroke-width="1.5" /><ellipse cx="422" cy="364" rx="3.6" ry="6.3" fill="#161b48" stroke="#141a48" stroke-width="0.8" /></g><g transform="rotate(-38 418 367)"><ellipse cx="418" cy="367" rx="7" ry="10.5" fill="#7284d6" stroke="#141a48" stroke-width="1.4" /><ellipse cx="418" cy="367" rx="3.4" ry="5.2" fill="#a4b0ec" stroke="#141a48" stroke-width="1.0" /></g>
<path d="M 436 318 a 2 2 0 0 1 4.1 -0.9 a 2.7 2.7 0 0 1 5.5 1.3 a 2 2 0 0 1 3.9 1.4" fill="none" stroke="#ffffff" stroke-width="1.4" stroke-linecap="round" opacity="0.9"/><path d="M 448 300 a 2.7 2.7 0 0 1 5.4 0.3 a 2.1 2.1 0 0 1 4.2 -1.2 a 1.6 1.6 0 0 1 3.2 1.4" fill="none" stroke="#ffffff" stroke-width="1.4" stroke-linecap="round" opacity="0.9"/><path d="M 430 340 a 1.9 1.9 0 0 1 3.7 0.6 a 1.9 1.9 0 0 1 3.8 1 a 2.3 2.3 0 0 1 4.7 -0.6" fill="none" stroke="#ffffff" stroke-width="1.4" stroke-linecap="round" opacity="0.9"/><path d="M 452 330 a 1.6 1.6 0 0 1 3.2 0.7 a 1.5 1.5 0 0 1 3 -0.8" fill="none" stroke="#ffffff" stroke-width="1.4" stroke-linecap="round" opacity="0.9"/>
<path d="M 430 303 Q 446 282 470 293 Q 486 303 492 336" fill="none" stroke="#d8262a" stroke-width="3.4" />
<polygon points="423,300 436,298 428,311" fill="#d8262a" stroke="none" stroke-width="1" stroke-linejoin="round" />
<path d="M 216.8 337 L 216.8 281 Q 216.8 274 222.6 270.4 L 405 144.2 Q 413 139 413 148 L 413 327" fill="none" stroke="#1c1f48" stroke-width="11.8" stroke-linecap="round" stroke-linejoin="round"/>
<path d="M 216.8 337 L 216.8 281 Q 216.8 274 222.6 270.4 L 405 144.2 Q 413 139 413 148" fill="none" stroke="#eceaf6" stroke-width="9.4" stroke-linecap="round" stroke-linejoin="round"/>
<path d="M 413 148 L 413 327" fill="none" stroke="url(#stv)" stroke-width="9.4" stroke-linecap="butt"/>
<circle cx="413" cy="327" r="4.7" fill="#8d7fc2" stroke="none" stroke-width="1" />
<path d="M 409.5 163 q 3.5 3 7 0" fill="none" stroke="#f4f0ff" stroke-width="1.1" /><path d="M 409.5 176 q 3.5 3 7 0" fill="none" stroke="#f4f0ff" stroke-width="1.1" /><path d="M 409.5 189 q 3.5 3 7 0" fill="none" stroke="#f4f0ff" stroke-width="1.1" /><path d="M 409.5 202 q 3.5 3 7 0" fill="none" stroke="#f4f0ff" stroke-width="1.1" /><path d="M 409.5 215 q 3.5 3 7 0" fill="none" stroke="#f4f0ff" stroke-width="1.1" /><path d="M 409.5 228 q 3.5 3 7 0" fill="none" stroke="#f4f0ff" stroke-width="1.1" /><path d="M 409.5 241 q 3.5 3 7 0" fill="none" stroke="#f4f0ff" stroke-width="1.1" /><path d="M 409.5 254 q 3.5 3 7 0" fill="none" stroke="#f4f0ff" stroke-width="1.1" /><path d="M 409.5 267 q 3.5 3 7 0" fill="none" stroke="#f4f0ff" stroke-width="1.1" /><path d="M 409.5 280 q 3.5 3 7 0" fill="none" stroke="#f4f0ff" stroke-width="1.1" /><path d="M 409.5 293 q 3.5 3 7 0" fill="none" stroke="#f4f0ff" stroke-width="1.1" /><path d="M 409.5 306 q 3.5 3 7 0" fill="none" stroke="#f4f0ff" stroke-width="1.1" /><path d="M 409.5 319 q 3.5 3 7 0" fill="none" stroke="#f4f0ff" stroke-width="1.1" /><line x1="283.2" y1="221.3" x2="289.6" y2="231.1" stroke="#ffffff" stroke-width="1.6" /><line x1="319.7" y1="196.1" x2="326.1" y2="205.9" stroke="#ffffff" stroke-width="1.6" /><line x1="365.3" y1="164.5" x2="371.7" y2="174.3" stroke="#ffffff" stroke-width="1.6" />
<path d="M 336 449 L 392 415.5" fill="none" stroke="#141a48" stroke-width="12.4" stroke-linecap="round"/>
<path d="M 336 449 L 392 415.5" fill="none" stroke="#3350c4" stroke-width="9.8" stroke-linecap="round"/>
<circle cx="346" cy="443" r="1.9" fill="none" stroke="#dfe6ff" stroke-width="1.1" /><circle cx="355.4" cy="437.3" r="1.9" fill="none" stroke="#dfe6ff" stroke-width="1.1" /><circle cx="364.8" cy="431.6" r="1.9" fill="none" stroke="#dfe6ff" stroke-width="1.1" /><circle cx="374.3" cy="426" r="1.9" fill="none" stroke="#dfe6ff" stroke-width="1.1" /><circle cx="383.7" cy="420.3" r="1.9" fill="none" stroke="#dfe6ff" stroke-width="1.1" />
<g transform="rotate(-32 331 453)"><path d="M 324 441 L 335 441 A 5.5 12 0 0 0 335 465 L 324 465 A 5.5 12 0 0 1 324 441 Z" fill="#3350c4" stroke="#141a48" stroke-width="1.3" /><ellipse cx="335" cy="453" rx="5.5" ry="12" fill="#2c46b8" stroke="#141a48" stroke-width="1.3" /><ellipse cx="335" cy="453" rx="2.6" ry="5.5" fill="none" stroke="#141a48" stroke-width="1.0" /></g>
<path d="M 732 555.5 L 484 384 Q 477 379 470 384 L 436 408 Q 429 413 436 418 L 682 592" fill="none" stroke="#1d3d14" stroke-width="11.6" stroke-linejoin="round"/>
<path d="M 732 555.5 L 484 384 Q 477 379 470 384 L 436 408 Q 429 413 436 418 L 682 592" fill="none" stroke="#6fbe3e" stroke-width="9.0" stroke-linejoin="round"/>
<ellipse cx="732" cy="555.5" rx="3.2" ry="5" fill="#4f8a2c" stroke="#1d3d14" stroke-width="1.2" transform="rotate(-34 732 555.5)"/>
<ellipse cx="682" cy="592" rx="3.2" ry="5" fill="#4f8a2c" stroke="#1d3d14" stroke-width="1.2" transform="rotate(-36 682 592)"/>
<circle cx="470" cy="386" r="1.8" fill="none" stroke="#e6f6d6" stroke-width="1.1" /><circle cx="477" cy="381.7" r="1.8" fill="none" stroke="#e6f6d6" stroke-width="1.1" /><circle cx="483.7" cy="385" r="1.8" fill="none" stroke="#e6f6d6" stroke-width="1.1" /><circle cx="490.5" cy="389.6" r="1.8" fill="none" stroke="#e6f6d6" stroke-width="1.1" /><circle cx="497.2" cy="394.3" r="1.8" fill="none" stroke="#e6f6d6" stroke-width="1.1" /><circle cx="504" cy="398.9" r="1.8" fill="none" stroke="#e6f6d6" stroke-width="1.1" /><circle cx="510.8" cy="403.6" r="1.8" fill="none" stroke="#e6f6d6" stroke-width="1.1" /><circle cx="517.5" cy="408.2" r="1.8" fill="none" stroke="#e6f6d6" stroke-width="1.1" /><circle cx="524.3" cy="412.9" r="1.8" fill="none" stroke="#e6f6d6" stroke-width="1.1" /><circle cx="531" cy="417.5" r="1.8" fill="none" stroke="#e6f6d6" stroke-width="1.1" /><circle cx="537.8" cy="422.2" r="1.8" fill="none" stroke="#e6f6d6" stroke-width="1.1" /><circle cx="544.5" cy="426.8" r="1.8" fill="none" stroke="#e6f6d6" stroke-width="1.1" /><circle cx="551.3" cy="431.5" r="1.8" fill="none" stroke="#e6f6d6" stroke-width="1.1" /><circle cx="558" cy="436.1" r="1.8" fill="none" stroke="#e6f6d6" stroke-width="1.1" /><circle cx="564.8" cy="440.8" r="1.8" fill="none" stroke="#e6f6d6" stroke-width="1.1" /><circle cx="571.5" cy="445.4" r="1.8" fill="none" stroke="#e6f6d6" stroke-width="1.1" /><circle cx="578.3" cy="450.1" r="1.8" fill="none" stroke="#e6f6d6" stroke-width="1.1" /><circle cx="585" cy="454.7" r="1.8" fill="none" stroke="#e6f6d6" stroke-width="1.1" /><circle cx="591.8" cy="459.4" r="1.8" fill="none" stroke="#e6f6d6" stroke-width="1.1" /><circle cx="598.6" cy="464" r="1.8" fill="none" stroke="#e6f6d6" stroke-width="1.1" /><circle cx="435.3" cy="411.7" r="1.8" fill="none" stroke="#e6f6d6" stroke-width="1.1" /><circle cx="442.6" cy="406.5" r="1.8" fill="none" stroke="#e6f6d6" stroke-width="1.1" /><circle cx="449.9" cy="401.3" r="1.8" fill="none" stroke="#e6f6d6" stroke-width="1.1" /><circle cx="457.3" cy="396" r="1.8" fill="none" stroke="#e6f6d6" stroke-width="1.1" /><circle cx="464.6" cy="390.8" r="1.8" fill="none" stroke="#e6f6d6" stroke-width="1.1" /><circle cx="610" cy="474" r="1.6" fill="none" stroke="#e6f6d6" stroke-width="1.0" /><circle cx="623.2" cy="483.1" r="1.6" fill="none" stroke="#e6f6d6" stroke-width="1.0" /><circle cx="636.4" cy="492.1" r="1.6" fill="none" stroke="#e6f6d6" stroke-width="1.0" /><circle cx="649.6" cy="501.2" r="1.6" fill="none" stroke="#e6f6d6" stroke-width="1.0" /><circle cx="662.8" cy="510.2" r="1.6" fill="none" stroke="#e6f6d6" stroke-width="1.0" /><circle cx="676" cy="519.3" r="1.6" fill="none" stroke="#e6f6d6" stroke-width="1.0" /><circle cx="689.1" cy="528.3" r="1.6" fill="none" stroke="#e6f6d6" stroke-width="1.0" /><circle cx="702.3" cy="537.4" r="1.6" fill="none" stroke="#e6f6d6" stroke-width="1.0" /><circle cx="715.5" cy="546.4" r="1.6" fill="none" stroke="#e6f6d6" stroke-width="1.0" /><circle cx="560" cy="500" r="1.4" fill="#3e6a26" stroke="#3e6a26" stroke-width="0" /><circle cx="574.4" cy="510.8" r="1.4" fill="#3e6a26" stroke="#3e6a26" stroke-width="0" /><circle cx="588.8" cy="521.6" r="1.4" fill="#3e6a26" stroke="#3e6a26" stroke-width="0" /><circle cx="603.2" cy="532.4" r="1.4" fill="#3e6a26" stroke="#3e6a26" stroke-width="0" /><circle cx="617.6" cy="543.2" r="1.4" fill="#3e6a26" stroke="#3e6a26" stroke-width="0" /><circle cx="632" cy="554" r="1.4" fill="#3e6a26" stroke="#3e6a26" stroke-width="0" /><circle cx="646.4" cy="564.8" r="1.4" fill="#3e6a26" stroke="#3e6a26" stroke-width="0" /><circle cx="660.8" cy="575.6" r="1.4" fill="#3e6a26" stroke="#3e6a26" stroke-width="0" /><circle cx="675.2" cy="586.4" r="1.4" fill="#3e6a26" stroke="#3e6a26" stroke-width="0" />
<polygon points="362.7,304 440,249 519.6,302.5 440,357" fill="none" stroke="#141a48" stroke-width="1.3" stroke-linejoin="round" /><line x1="362.7" y1="304" x2="362.7" y2="400" stroke="#141a48" stroke-width="1.3" /><line x1="519.6" y1="302.5" x2="519.6" y2="398.5" stroke="#141a48" stroke-width="1.3" /><line x1="440" y1="357" x2="440" y2="453" stroke="#141a48" stroke-width="1.3" /><polyline points="362.7,400 440,453 519.6,398.5" fill="none" stroke="#141a48" stroke-width="1.3" stroke-linejoin="round" stroke-linecap="butt" />
<g><line x1="52" y1="197" x2="110" y2="405" stroke="#e07a7a" stroke-width="2.8" opacity="0.4" stroke-linecap="round"/><circle cx="52" cy="197" r="1" fill="#8e3434" stroke="none" stroke-width="1" /><circle cx="53.1" cy="200.9" r="1" fill="#8e3434" stroke="none" stroke-width="1" /><circle cx="54.2" cy="204.8" r="1" fill="#8e3434" stroke="none" stroke-width="1" /><circle cx="55.3" cy="208.8" r="1" fill="#8e3434" stroke="none" stroke-width="1" /><circle cx="56.4" cy="212.7" r="1" fill="#8e3434" stroke="none" stroke-width="1" /><circle cx="57.5" cy="216.6" r="1" fill="#8e3434" stroke="none" stroke-width="1" /><circle cx="58.6" cy="220.5" r="1" fill="#8e3434" stroke="none" stroke-width="1" /><circle cx="59.7" cy="224.5" r="1" fill="#8e3434" stroke="none" stroke-width="1" /><circle cx="60.8" cy="228.4" r="1" fill="#8e3434" stroke="none" stroke-width="1" /><circle cx="61.8" cy="232.3" r="1" fill="#8e3434" stroke="none" stroke-width="1" /><circle cx="62.9" cy="236.2" r="1" fill="#8e3434" stroke="none" stroke-width="1" /><circle cx="64" cy="240.2" r="1" fill="#8e3434" stroke="none" stroke-width="1" /><circle cx="65.1" cy="244.1" r="1" fill="#8e3434" stroke="none" stroke-width="1" /><circle cx="66.2" cy="248" r="1" fill="#8e3434" stroke="none" stroke-width="1" /><circle cx="67.3" cy="251.9" r="1" fill="#8e3434" stroke="none" stroke-width="1" /><circle cx="68.4" cy="255.9" r="1" fill="#8e3434" stroke="none" stroke-width="1" /><circle cx="69.5" cy="259.8" r="1" fill="#8e3434" stroke="none" stroke-width="1" /><circle cx="70.6" cy="263.7" r="1" fill="#8e3434" stroke="none" stroke-width="1" /><circle cx="71.7" cy="267.6" r="1" fill="#8e3434" stroke="none" stroke-width="1" /><circle cx="72.8" cy="271.6" r="1" fill="#8e3434" stroke="none" stroke-width="1" /><circle cx="73.9" cy="275.5" r="1" fill="#8e3434" stroke="none" stroke-width="1" /><circle cx="75" cy="279.4" r="1" fill="#8e3434" stroke="none" stroke-width="1" /><circle cx="76.1" cy="283.3" r="1" fill="#8e3434" stroke="none" stroke-width="1" /><circle cx="77.2" cy="287.3" r="1" fill="#8e3434" stroke="none" stroke-width="1" /><circle cx="78.3" cy="291.2" r="1" fill="#8e3434" stroke="none" stroke-width="1" /><circle cx="79.4" cy="295.1" r="1" fill="#8e3434" stroke="none" stroke-width="1" /><circle cx="80.5" cy="299" r="1" fill="#8e3434" stroke="none" stroke-width="1" /><circle cx="81.5" cy="303" r="1" fill="#8e3434" stroke="none" stroke-width="1" /><circle cx="82.6" cy="306.9" r="1" fill="#8e3434" stroke="none" stroke-width="1" /><circle cx="83.7" cy="310.8" r="1" fill="#8e3434" stroke="none" stroke-width="1" /><circle cx="84.8" cy="314.7" r="1" fill="#8e3434" stroke="none" stroke-width="1" /><circle cx="85.9" cy="318.7" r="1" fill="#8e3434" stroke="none" stroke-width="1" /><circle cx="87" cy="322.6" r="1" fill="#8e3434" stroke="none" stroke-width="1" /><circle cx="88.1" cy="326.5" r="1" fill="#8e3434" stroke="none" stroke-width="1" /><circle cx="89.2" cy="330.4" r="1" fill="#8e3434" stroke="none" stroke-width="1" /><circle cx="90.3" cy="334.4" r="1" fill="#8e3434" stroke="none" stroke-width="1" /><circle cx="91.4" cy="338.3" r="1" fill="#8e3434" stroke="none" stroke-width="1" /><circle cx="92.5" cy="342.2" r="1" fill="#8e3434" stroke="none" stroke-width="1" /><circle cx="93.6" cy="346.1" r="1" fill="#8e3434" stroke="none" stroke-width="1" /><circle cx="94.7" cy="350.1" r="1" fill="#8e3434" stroke="none" stroke-width="1" /><circle cx="95.8" cy="354" r="1" fill="#8e3434" stroke="none" stroke-width="1" /><circle cx="96.9" cy="357.9" r="1" fill="#8e3434" stroke="none" stroke-width="1" /><circle cx="98" cy="361.8" r="1" fill="#8e3434" stroke="none" stroke-width="1" /><circle cx="99.1" cy="365.8" r="1" fill="#8e3434" stroke="none" stroke-width="1" /><circle cx="100.2" cy="369.7" r="1" fill="#8e3434" stroke="none" stroke-width="1" /><circle cx="101.2" cy="373.6" r="1" fill="#8e3434" stroke="none" stroke-width="1" /><circle cx="102.3" cy="377.5" r="1" fill="#8e3434" stroke="none" stroke-width="1" /><circle cx="103.4" cy="381.5" r="1" fill="#8e3434" stroke="none" stroke-width="1" /><circle cx="104.5" cy="385.4" r="1" fill="#8e3434" stroke="none" stroke-width="1" /><circle cx="105.6" cy="389.3" r="1" fill="#8e3434" stroke="none" stroke-width="1" /><circle cx="106.7" cy="393.2" r="1" fill="#8e3434" stroke="none" stroke-width="1" /><circle cx="107.8" cy="397.2" r="1" fill="#8e3434" stroke="none" stroke-width="1" /><circle cx="108.9" cy="401.1" r="1" fill="#8e3434" stroke="none" stroke-width="1" /><circle cx="110" cy="405" r="1" fill="#8e3434" stroke="none" stroke-width="1" /><line x1="148.5" y1="226" x2="178" y2="331" stroke="#e07a7a" stroke-width="2.8" opacity="0.4" stroke-linecap="round"/><circle cx="148.5" cy="226" r="1" fill="#8e3434" stroke="none" stroke-width="1" /><circle cx="149.6" cy="229.9" r="1" fill="#8e3434" stroke="none" stroke-width="1" /><circle cx="150.7" cy="233.8" r="1" fill="#8e3434" stroke="none" stroke-width="1" /><circle cx="151.8" cy="237.7" r="1" fill="#8e3434" stroke="none" stroke-width="1" /><circle cx="152.9" cy="241.6" r="1" fill="#8e3434" stroke="none" stroke-width="1" /><circle cx="154" cy="245.4" r="1" fill="#8e3434" stroke="none" stroke-width="1" /><circle cx="155.1" cy="249.3" r="1" fill="#8e3434" stroke="none" stroke-width="1" /><circle cx="156.1" cy="253.2" r="1" fill="#8e3434" stroke="none" stroke-width="1" /><circle cx="157.2" cy="257.1" r="1" fill="#8e3434" stroke="none" stroke-width="1" /><circle cx="158.3" cy="261" r="1" fill="#8e3434" stroke="none" stroke-width="1" /><circle cx="159.4" cy="264.9" r="1" fill="#8e3434" stroke="none" stroke-width="1" /><circle cx="160.5" cy="268.8" r="1" fill="#8e3434" stroke="none" stroke-width="1" /><circle cx="161.6" cy="272.7" r="1" fill="#8e3434" stroke="none" stroke-width="1" /><circle cx="162.7" cy="276.6" r="1" fill="#8e3434" stroke="none" stroke-width="1" /><circle cx="163.8" cy="280.4" r="1" fill="#8e3434" stroke="none" stroke-width="1" /><circle cx="164.9" cy="284.3" r="1" fill="#8e3434" stroke="none" stroke-width="1" /><circle cx="166" cy="288.2" r="1" fill="#8e3434" stroke="none" stroke-width="1" /><circle cx="167.1" cy="292.1" r="1" fill="#8e3434" stroke="none" stroke-width="1" /><circle cx="168.2" cy="296" r="1" fill="#8e3434" stroke="none" stroke-width="1" /><circle cx="169.3" cy="299.9" r="1" fill="#8e3434" stroke="none" stroke-width="1" /><circle cx="170.4" cy="303.8" r="1" fill="#8e3434" stroke="none" stroke-width="1" /><circle cx="171.4" cy="307.7" r="1" fill="#8e3434" stroke="none" stroke-width="1" /><circle cx="172.5" cy="311.6" r="1" fill="#8e3434" stroke="none" stroke-width="1" /><circle cx="173.6" cy="315.4" r="1" fill="#8e3434" stroke="none" stroke-width="1" /><circle cx="174.7" cy="319.3" r="1" fill="#8e3434" stroke="none" stroke-width="1" /><circle cx="175.8" cy="323.2" r="1" fill="#8e3434" stroke="none" stroke-width="1" /><circle cx="176.9" cy="327.1" r="1" fill="#8e3434" stroke="none" stroke-width="1" /><circle cx="178" cy="331" r="1" fill="#8e3434" stroke="none" stroke-width="1" /><line x1="325" y1="201.5" x2="346" y2="217" stroke="#e07a7a" stroke-width="2.8" opacity="0.4" stroke-linecap="round"/><circle cx="325" cy="201.5" r="1" fill="#8e3434" stroke="none" stroke-width="1" /><circle cx="328.5" cy="204.1" r="1" fill="#8e3434" stroke="none" stroke-width="1" /><circle cx="332" cy="206.7" r="1" fill="#8e3434" stroke="none" stroke-width="1" /><circle cx="335.5" cy="209.2" r="1" fill="#8e3434" stroke="none" stroke-width="1" /><circle cx="339" cy="211.8" r="1" fill="#8e3434" stroke="none" stroke-width="1" /><circle cx="342.5" cy="214.4" r="1" fill="#8e3434" stroke="none" stroke-width="1" /><circle cx="346" cy="217" r="1" fill="#8e3434" stroke="none" stroke-width="1" /><line x1="546" y1="378" x2="513" y2="357" stroke="#e07a7a" stroke-width="2.8" opacity="0.4" stroke-linecap="round"/><circle cx="546" cy="378" r="1" fill="#8e3434" stroke="none" stroke-width="1" /><circle cx="542.3" cy="375.7" r="1" fill="#8e3434" stroke="none" stroke-width="1" /><circle cx="538.7" cy="373.3" r="1" fill="#8e3434" stroke="none" stroke-width="1" /><circle cx="535" cy="371" r="1" fill="#8e3434" stroke="none" stroke-width="1" /><circle cx="531.3" cy="368.7" r="1" fill="#8e3434" stroke="none" stroke-width="1" /><circle cx="527.7" cy="366.3" r="1" fill="#8e3434" stroke="none" stroke-width="1" /><circle cx="524" cy="364" r="1" fill="#8e3434" stroke="none" stroke-width="1" /><circle cx="520.3" cy="361.7" r="1" fill="#8e3434" stroke="none" stroke-width="1" /><circle cx="516.7" cy="359.3" r="1" fill="#8e3434" stroke="none" stroke-width="1" /><circle cx="513" cy="357" r="1" fill="#8e3434" stroke="none" stroke-width="1" /><line x1="301" y1="506.5" x2="233" y2="493" stroke="#e07a7a" stroke-width="2.8" opacity="0.4" stroke-linecap="round"/><circle cx="301" cy="506.5" r="1" fill="#8e3434" stroke="none" stroke-width="1" /><circle cx="297" cy="505.7" r="1" fill="#8e3434" stroke="none" stroke-width="1" /><circle cx="293" cy="504.9" r="1" fill="#8e3434" stroke="none" stroke-width="1" /><circle cx="289" cy="504.1" r="1" fill="#8e3434" stroke="none" stroke-width="1" /><circle cx="285" cy="503.3" r="1" fill="#8e3434" stroke="none" stroke-width="1" /><circle cx="281" cy="502.5" r="1" fill="#8e3434" stroke="none" stroke-width="1" /><circle cx="277" cy="501.7" r="1" fill="#8e3434" stroke="none" stroke-width="1" /><circle cx="273" cy="500.9" r="1" fill="#8e3434" stroke="none" stroke-width="1" /><circle cx="269" cy="500.1" r="1" fill="#8e3434" stroke="none" stroke-width="1" /><circle cx="265" cy="499.4" r="1" fill="#8e3434" stroke="none" stroke-width="1" /><circle cx="261" cy="498.6" r="1" fill="#8e3434" stroke="none" stroke-width="1" /><circle cx="257" cy="497.8" r="1" fill="#8e3434" stroke="none" stroke-width="1" /><circle cx="253" cy="497" r="1" fill="#8e3434" stroke="none" stroke-width="1" /><circle cx="249" cy="496.2" r="1" fill="#8e3434" stroke="none" stroke-width="1" /><circle cx="245" cy="495.4" r="1" fill="#8e3434" stroke="none" stroke-width="1" /><circle cx="241" cy="494.6" r="1" fill="#8e3434" stroke="none" stroke-width="1" /><circle cx="237" cy="493.8" r="1" fill="#8e3434" stroke="none" stroke-width="1" /><circle cx="233" cy="493" r="1" fill="#8e3434" stroke="none" stroke-width="1" /><line x1="298" y1="555" x2="135" y2="466" stroke="#e07a7a" stroke-width="2.8" opacity="0.4" stroke-linecap="round"/><circle cx="298" cy="555" r="1" fill="#8e3434" stroke="none" stroke-width="1" /><circle cx="294.5" cy="553.1" r="1" fill="#8e3434" stroke="none" stroke-width="1" /><circle cx="290.9" cy="551.1" r="1" fill="#8e3434" stroke="none" stroke-width="1" /><circle cx="287.4" cy="549.2" r="1" fill="#8e3434" stroke="none" stroke-width="1" /><circle cx="283.8" cy="547.3" r="1" fill="#8e3434" stroke="none" stroke-width="1" /><circle cx="280.3" cy="545.3" r="1" fill="#8e3434" stroke="none" stroke-width="1" /><circle cx="276.7" cy="543.4" r="1" fill="#8e3434" stroke="none" stroke-width="1" /><circle cx="273.2" cy="541.5" r="1" fill="#8e3434" stroke="none" stroke-width="1" /><circle cx="269.7" cy="539.5" r="1" fill="#8e3434" stroke="none" stroke-width="1" /><circle cx="266.1" cy="537.6" r="1" fill="#8e3434" stroke="none" stroke-width="1" /><circle cx="262.6" cy="535.7" r="1" fill="#8e3434" stroke="none" stroke-width="1" /><circle cx="259" cy="533.7" r="1" fill="#8e3434" stroke="none" stroke-width="1" /><circle cx="255.5" cy="531.8" r="1" fill="#8e3434" stroke="none" stroke-width="1" /><circle cx="251.9" cy="529.8" r="1" fill="#8e3434" stroke="none" stroke-width="1" /><circle cx="248.4" cy="527.9" r="1" fill="#8e3434" stroke="none" stroke-width="1" /><circle cx="244.8" cy="526" r="1" fill="#8e3434" stroke="none" stroke-width="1" /><circle cx="241.3" cy="524" r="1" fill="#8e3434" stroke="none" stroke-width="1" /><circle cx="237.8" cy="522.1" r="1" fill="#8e3434" stroke="none" stroke-width="1" /><circle cx="234.2" cy="520.2" r="1" fill="#8e3434" stroke="none" stroke-width="1" /><circle cx="230.7" cy="518.2" r="1" fill="#8e3434" stroke="none" stroke-width="1" /><circle cx="227.1" cy="516.3" r="1" fill="#8e3434" stroke="none" stroke-width="1" /><circle cx="223.6" cy="514.4" r="1" fill="#8e3434" stroke="none" stroke-width="1" /><circle cx="220" cy="512.4" r="1" fill="#8e3434" stroke="none" stroke-width="1" /><circle cx="216.5" cy="510.5" r="1" fill="#8e3434" stroke="none" stroke-width="1" /><circle cx="213" cy="508.6" r="1" fill="#8e3434" stroke="none" stroke-width="1" /><circle cx="209.4" cy="506.6" r="1" fill="#8e3434" stroke="none" stroke-width="1" /><circle cx="205.9" cy="504.7" r="1" fill="#8e3434" stroke="none" stroke-width="1" /><circle cx="202.3" cy="502.8" r="1" fill="#8e3434" stroke="none" stroke-width="1" /><circle cx="198.8" cy="500.8" r="1" fill="#8e3434" stroke="none" stroke-width="1" /><circle cx="195.2" cy="498.9" r="1" fill="#8e3434" stroke="none" stroke-width="1" /><circle cx="191.7" cy="497" r="1" fill="#8e3434" stroke="none" stroke-width="1" /><circle cx="188.2" cy="495" r="1" fill="#8e3434" stroke="none" stroke-width="1" /><circle cx="184.6" cy="493.1" r="1" fill="#8e3434" stroke="none" stroke-width="1" /><circle cx="181.1" cy="491.2" r="1" fill="#8e3434" stroke="none" stroke-width="1" /><circle cx="177.5" cy="489.2" r="1" fill="#8e3434" stroke="none" stroke-width="1" /><circle cx="174" cy="487.3" r="1" fill="#8e3434" stroke="none" stroke-width="1" /><circle cx="170.4" cy="485.3" r="1" fill="#8e3434" stroke="none" stroke-width="1" /><circle cx="166.9" cy="483.4" r="1" fill="#8e3434" stroke="none" stroke-width="1" /><circle cx="163.3" cy="481.5" r="1" fill="#8e3434" stroke="none" stroke-width="1" /><circle cx="159.8" cy="479.5" r="1" fill="#8e3434" stroke="none" stroke-width="1" /><circle cx="156.3" cy="477.6" r="1" fill="#8e3434" stroke="none" stroke-width="1" /><circle cx="152.7" cy="475.7" r="1" fill="#8e3434" stroke="none" stroke-width="1" /><circle cx="149.2" cy="473.7" r="1" fill="#8e3434" stroke="none" stroke-width="1" /><circle cx="145.6" cy="471.8" r="1" fill="#8e3434" stroke="none" stroke-width="1" /><circle cx="142.1" cy="469.9" r="1" fill="#8e3434" stroke="none" stroke-width="1" /><circle cx="138.5" cy="467.9" r="1" fill="#8e3434" stroke="none" stroke-width="1" /><circle cx="135" cy="466" r="1" fill="#8e3434" stroke="none" stroke-width="1" /><line x1="286" y1="592.6" x2="160" y2="503" stroke="#e07a7a" stroke-width="2.8" opacity="0.4" stroke-linecap="round"/><circle cx="286" cy="592.6" r="1" fill="#8e3434" stroke="none" stroke-width="1" /><circle cx="282.7" cy="590.2" r="1" fill="#8e3434" stroke="none" stroke-width="1" /><circle cx="279.4" cy="587.9" r="1" fill="#8e3434" stroke="none" stroke-width="1" /><circle cx="276.1" cy="585.5" r="1" fill="#8e3434" stroke="none" stroke-width="1" /><circle cx="272.7" cy="583.2" r="1" fill="#8e3434" stroke="none" stroke-width="1" /><circle cx="269.4" cy="580.8" r="1" fill="#8e3434" stroke="none" stroke-width="1" /><circle cx="266.1" cy="578.5" r="1" fill="#8e3434" stroke="none" stroke-width="1" /><circle cx="262.8" cy="576.1" r="1" fill="#8e3434" stroke="none" stroke-width="1" /><circle cx="259.5" cy="573.7" r="1" fill="#8e3434" stroke="none" stroke-width="1" /><circle cx="256.2" cy="571.4" r="1" fill="#8e3434" stroke="none" stroke-width="1" /><circle cx="252.8" cy="569" r="1" fill="#8e3434" stroke="none" stroke-width="1" /><circle cx="249.5" cy="566.7" r="1" fill="#8e3434" stroke="none" stroke-width="1" /><circle cx="246.2" cy="564.3" r="1" fill="#8e3434" stroke="none" stroke-width="1" /><circle cx="242.9" cy="561.9" r="1" fill="#8e3434" stroke="none" stroke-width="1" /><circle cx="239.6" cy="559.6" r="1" fill="#8e3434" stroke="none" stroke-width="1" /><circle cx="236.3" cy="557.2" r="1" fill="#8e3434" stroke="none" stroke-width="1" /><circle cx="232.9" cy="554.9" r="1" fill="#8e3434" stroke="none" stroke-width="1" /><circle cx="229.6" cy="552.5" r="1" fill="#8e3434" stroke="none" stroke-width="1" /><circle cx="226.3" cy="550.2" r="1" fill="#8e3434" stroke="none" stroke-width="1" /><circle cx="223" cy="547.8" r="1" fill="#8e3434" stroke="none" stroke-width="1" /><circle cx="219.7" cy="545.4" r="1" fill="#8e3434" stroke="none" stroke-width="1" /><circle cx="216.4" cy="543.1" r="1" fill="#8e3434" stroke="none" stroke-width="1" /><circle cx="213.1" cy="540.7" r="1" fill="#8e3434" stroke="none" stroke-width="1" /><circle cx="209.7" cy="538.4" r="1" fill="#8e3434" stroke="none" stroke-width="1" /><circle cx="206.4" cy="536" r="1" fill="#8e3434" stroke="none" stroke-width="1" /><circle cx="203.1" cy="533.7" r="1" fill="#8e3434" stroke="none" stroke-width="1" /><circle cx="199.8" cy="531.3" r="1" fill="#8e3434" stroke="none" stroke-width="1" /><circle cx="196.5" cy="528.9" r="1" fill="#8e3434" stroke="none" stroke-width="1" /><circle cx="193.2" cy="526.6" r="1" fill="#8e3434" stroke="none" stroke-width="1" /><circle cx="189.8" cy="524.2" r="1" fill="#8e3434" stroke="none" stroke-width="1" /><circle cx="186.5" cy="521.9" r="1" fill="#8e3434" stroke="none" stroke-width="1" /><circle cx="183.2" cy="519.5" r="1" fill="#8e3434" stroke="none" stroke-width="1" /><circle cx="179.9" cy="517.1" r="1" fill="#8e3434" stroke="none" stroke-width="1" /><circle cx="176.6" cy="514.8" r="1" fill="#8e3434" stroke="none" stroke-width="1" /><circle cx="173.3" cy="512.4" r="1" fill="#8e3434" stroke="none" stroke-width="1" /><circle cx="169.9" cy="510.1" r="1" fill="#8e3434" stroke="none" stroke-width="1" /><circle cx="166.6" cy="507.7" r="1" fill="#8e3434" stroke="none" stroke-width="1" /><circle cx="163.3" cy="505.4" r="1" fill="#8e3434" stroke="none" stroke-width="1" /><circle cx="160" cy="503" r="1" fill="#8e3434" stroke="none" stroke-width="1" /><line x1="255.5" y1="618" x2="172" y2="542" stroke="#e07a7a" stroke-width="2.8" opacity="0.4" stroke-linecap="round"/><circle cx="255.5" cy="618" r="1" fill="#8e3434" stroke="none" stroke-width="1" /><circle cx="252.5" cy="615.3" r="1" fill="#8e3434" stroke="none" stroke-width="1" /><circle cx="249.5" cy="612.6" r="1" fill="#8e3434" stroke="none" stroke-width="1" /><circle cx="246.6" cy="609.9" r="1" fill="#8e3434" stroke="none" stroke-width="1" /><circle cx="243.6" cy="607.1" r="1" fill="#8e3434" stroke="none" stroke-width="1" /><circle cx="240.6" cy="604.4" r="1" fill="#8e3434" stroke="none" stroke-width="1" /><circle cx="237.6" cy="601.7" r="1" fill="#8e3434" stroke="none" stroke-width="1" /><circle cx="234.6" cy="599" r="1" fill="#8e3434" stroke="none" stroke-width="1" /><circle cx="231.6" cy="596.3" r="1" fill="#8e3434" stroke="none" stroke-width="1" /><circle cx="228.7" cy="593.6" r="1" fill="#8e3434" stroke="none" stroke-width="1" /><circle cx="225.7" cy="590.9" r="1" fill="#8e3434" stroke="none" stroke-width="1" /><circle cx="222.7" cy="588.1" r="1" fill="#8e3434" stroke="none" stroke-width="1" /><circle cx="219.7" cy="585.4" r="1" fill="#8e3434" stroke="none" stroke-width="1" /><circle cx="216.7" cy="582.7" r="1" fill="#8e3434" stroke="none" stroke-width="1" /><circle cx="213.8" cy="580" r="1" fill="#8e3434" stroke="none" stroke-width="1" /><circle cx="210.8" cy="577.3" r="1" fill="#8e3434" stroke="none" stroke-width="1" /><circle cx="207.8" cy="574.6" r="1" fill="#8e3434" stroke="none" stroke-width="1" /><circle cx="204.8" cy="571.9" r="1" fill="#8e3434" stroke="none" stroke-width="1" /><circle cx="201.8" cy="569.1" r="1" fill="#8e3434" stroke="none" stroke-width="1" /><circle cx="198.8" cy="566.4" r="1" fill="#8e3434" stroke="none" stroke-width="1" /><circle cx="195.9" cy="563.7" r="1" fill="#8e3434" stroke="none" stroke-width="1" /><circle cx="192.9" cy="561" r="1" fill="#8e3434" stroke="none" stroke-width="1" /><circle cx="189.9" cy="558.3" r="1" fill="#8e3434" stroke="none" stroke-width="1" /><circle cx="186.9" cy="555.6" r="1" fill="#8e3434" stroke="none" stroke-width="1" /><circle cx="183.9" cy="552.9" r="1" fill="#8e3434" stroke="none" stroke-width="1" /><circle cx="180.9" cy="550.1" r="1" fill="#8e3434" stroke="none" stroke-width="1" /><circle cx="178" cy="547.4" r="1" fill="#8e3434" stroke="none" stroke-width="1" /><circle cx="175" cy="544.7" r="1" fill="#8e3434" stroke="none" stroke-width="1" /><circle cx="172" cy="542" r="1" fill="#8e3434" stroke="none" stroke-width="1" /><line x1="200" y1="644.6" x2="187" y2="638" stroke="#e07a7a" stroke-width="2.8" opacity="0.4" stroke-linecap="round"/><circle cx="200" cy="644.6" r="1" fill="#8e3434" stroke="none" stroke-width="1" /><circle cx="195.7" cy="642.4" r="1" fill="#8e3434" stroke="none" stroke-width="1" /><circle cx="191.3" cy="640.2" r="1" fill="#8e3434" stroke="none" stroke-width="1" /><circle cx="187" cy="638" r="1" fill="#8e3434" stroke="none" stroke-width="1" /></g>
<polygon points="306.2,194.1 287.6,202.5 293.5,207.4" fill="#d92b2b" stroke="none" stroke-width="1" stroke-linejoin="round" /><polygon points="428.5,209.4 437.9,209.4 433,224" fill="#d92b2b" stroke="none" stroke-width="1" stroke-linejoin="round" /><polygon points="196.6,282 192,296 201.5,296" fill="#d92b2b" stroke="none" stroke-width="1" stroke-linejoin="round" /><polygon points="321,367 303,375 309,380" fill="#d92b2b" stroke="none" stroke-width="1" stroke-linejoin="round" /><polygon points="347,412 342.5,426 351.5,426" fill="#d92b2b" stroke="none" stroke-width="1" stroke-linejoin="round" /><polygon points="53,551.3 47.8,566 57.4,566" fill="#d92b2b" stroke="none" stroke-width="1" stroke-linejoin="round" /><polygon points="136.5,574 154.8,566 148.7,561.4" fill="#d92b2b" stroke="none" stroke-width="1" stroke-linejoin="round" /><polygon points="539.1,439.4 520.5,431 526.5,426.8" fill="#d92b2b" stroke="none" stroke-width="1" stroke-linejoin="round" /><polygon points="480.8,469.5 498.8,477.9 492.2,482.1" fill="#d92b2b" stroke="none" stroke-width="1" stroke-linejoin="round" />
<g filter="url(#gaa)"><text x="356.2" y="109" font-family="'Liberation Sans', sans-serif" font-size="10.2" font-weight="bold" fill="#111111" text-anchor="start" textLength="74.8" lengthAdjust="spacingAndGlyphs" stroke="#111111" stroke-width="0.45">Control Room</text><text x="14.1" y="180" font-family="'Liberation Sans', sans-serif" font-size="9.6" font-weight="bold" fill="#111111" text-anchor="start" textLength="77.6" lengthAdjust="spacingAndGlyphs" stroke="#111111" stroke-width="0.45">Fuel Rods and</text><text x="17.4" y="192" font-family="'Liberation Sans', sans-serif" font-size="9.6" font-weight="bold" fill="#111111" text-anchor="start" textLength="71.3" lengthAdjust="spacingAndGlyphs" stroke="#111111" stroke-width="0.45">Control Rods</text><text x="129.3" y="209.6" font-family="'Liberation Sans', sans-serif" font-size="9.6" font-weight="bold" fill="#111111" text-anchor="start" textLength="34.2" lengthAdjust="spacingAndGlyphs" stroke="#111111" stroke-width="0.45">Steam</text><text x="119" y="221.5" font-family="'Liberation Sans', sans-serif" font-size="9.6" font-weight="bold" fill="#111111" text-anchor="start" textLength="55" lengthAdjust="spacingAndGlyphs" stroke="#111111" stroke-width="0.45">Generator</text><text x="318.4" y="227.8" font-family="'Liberation Sans', sans-serif" font-size="9.4" font-weight="bold" fill="#111111" text-anchor="start" textLength="61.3" lengthAdjust="spacingAndGlyphs" stroke="#111111" stroke-width="0.45">Steam Line</text><text x="318.4" y="237.6" font-family="'Liberation Sans', sans-serif" font-size="9.4" font-weight="bold" fill="#111111" text-anchor="start" textLength="60.6" lengthAdjust="spacingAndGlyphs" stroke="#111111" stroke-width="0.45">Containing</text><text x="308.4" y="247.3" font-family="'Liberation Sans', sans-serif" font-size="9.4" font-weight="bold" fill="#111111" text-anchor="start" textLength="80.2" lengthAdjust="spacingAndGlyphs" stroke="#111111" stroke-width="0.45">High-Pressure</text><text x="331" y="256.8" font-family="'Liberation Sans', sans-serif" font-size="9.4" font-weight="bold" fill="#111111" text-anchor="start" textLength="35" lengthAdjust="spacingAndGlyphs" stroke="#111111" stroke-width="0.45">Steam</text><text x="651.4" y="37.5" font-family="'Liberation Sans', sans-serif" font-size="9.8" font-weight="bold" fill="#111111" text-anchor="start" textLength="101.5" lengthAdjust="spacingAndGlyphs" stroke="#111111" stroke-width="0.45">Consumer's Home</text><text x="735.7" y="235.3" font-family="'Liberation Sans', sans-serif" font-size="9.6" font-weight="bold" fill="#111111" text-anchor="start" textLength="75.3" lengthAdjust="spacingAndGlyphs" stroke="#111111" stroke-width="0.45">Transmission</text><text x="758.8" y="244.9" font-family="'Liberation Sans', sans-serif" font-size="9.6" font-weight="bold" fill="#111111" text-anchor="start" textLength="29" lengthAdjust="spacingAndGlyphs" stroke="#111111" stroke-width="0.45">Lines</text><text x="673" y="284.7" font-family="'Liberation Sans', sans-serif" font-size="9.6" font-weight="bold" fill="#111111" text-anchor="start" textLength="54" lengthAdjust="spacingAndGlyphs" stroke="#111111" stroke-width="0.45">Electrical</text><text x="667.8" y="293.4" font-family="'Liberation Sans', sans-serif" font-size="9.6" font-weight="bold" fill="#111111" text-anchor="start" textLength="63.9" lengthAdjust="spacingAndGlyphs" stroke="#111111" stroke-width="0.45">Switchyard</text><text x="593.6" y="341.5" font-family="'Liberation Sans', sans-serif" font-size="9.6" font-weight="bold" fill="#111111" text-anchor="start" textLength="102.1" lengthAdjust="spacingAndGlyphs" stroke="#111111" stroke-width="0.45">Turbine Generator</text><text x="549.6" y="381.9" font-family="'Liberation Sans', sans-serif" font-size="9.6" font-weight="bold" fill="#111111" text-anchor="start" textLength="42.1" lengthAdjust="spacingAndGlyphs" stroke="#111111" stroke-width="0.45">Turbine</text><text x="305.3" y="510.2" font-family="'Liberation Sans', sans-serif" font-size="9.4" font-weight="bold" fill="#111111" text-anchor="start" textLength="65.9" lengthAdjust="spacingAndGlyphs" stroke="#111111" stroke-width="0.45">Pressurized</text><text x="305.3" y="519.8" font-family="'Liberation Sans', sans-serif" font-size="9.4" font-weight="bold" fill="#111111" text-anchor="start" textLength="64.1" lengthAdjust="spacingAndGlyphs" stroke="#111111" stroke-width="0.45">Water Loop</text><text x="305.3" y="558.9" font-family="'Liberation Sans', sans-serif" font-size="9.4" font-weight="bold" fill="#111111" text-anchor="start" textLength="72.7" lengthAdjust="spacingAndGlyphs" stroke="#111111" stroke-width="0.45">Reactor Core</text><text x="292.2" y="599.6" font-family="'Liberation Sans', sans-serif" font-size="9.4" font-weight="bold" fill="#111111" text-anchor="start" textLength="84.4" lengthAdjust="spacingAndGlyphs" stroke="#111111" stroke-width="0.45">Reactor Vessel</text><text x="263.6" y="629" font-family="'Liberation Sans', sans-serif" font-size="9.2" font-weight="bold" fill="#111111" text-anchor="start" textLength="30" lengthAdjust="spacingAndGlyphs" stroke="#111111" stroke-width="0.45">Pump</text><text x="204.3" y="653.8" font-family="'Liberation Sans', sans-serif" font-size="9.4" font-weight="bold" fill="#111111" text-anchor="start" textLength="125.8" lengthAdjust="spacingAndGlyphs" stroke="#111111" stroke-width="0.45">Containment Structure</text><text x="481.4" y="525.7" font-family="'Liberation Sans', sans-serif" font-size="9.8" font-weight="bold" fill="#111111" text-anchor="start" textLength="73.2" lengthAdjust="spacingAndGlyphs" stroke="#111111" stroke-width="0.45">Ocean Water</text><text x="481.4" y="534.9" font-family="'Liberation Sans', sans-serif" font-size="9.8" font-weight="bold" fill="#111111" text-anchor="start" textLength="72.8" lengthAdjust="spacingAndGlyphs" stroke="#111111" stroke-width="0.45">Coolant Loop</text><text x="298.6" y="632.8" font-family="'Liberation Sans', sans-serif" font-size="10.6" font-weight="normal" fill="#000000" text-anchor="start" textLength="19.8" lengthAdjust="spacingAndGlyphs" stroke="#000" stroke-width="0.25">RCP</text><text x="743.4" y="626.6" font-size="10.5" font-weight="bold" fill="#141414" stroke="#141414" stroke-width="0.5" text-anchor="middle" transform="rotate(-42 743.4 622.8)">O</text><text x="755" y="613.3" font-size="10.5" font-weight="bold" fill="#141414" stroke="#141414" stroke-width="0.5" text-anchor="middle" transform="rotate(-42 755 609.5)">C</text><text x="768" y="601.3" font-size="10.5" font-weight="bold" fill="#141414" stroke="#141414" stroke-width="0.5" text-anchor="middle" transform="rotate(-42 768 597.5)">E</text><text x="781.5" y="590.3" font-size="10.5" font-weight="bold" fill="#141414" stroke="#141414" stroke-width="0.5" text-anchor="middle" transform="rotate(-42 781.5 586.5)">A</text><text x="796.5" y="578.4" font-size="10.5" font-weight="bold" fill="#141414" stroke="#141414" stroke-width="0.5" text-anchor="middle" transform="rotate(-42 796.5 574.6)">N</text><text x="786" y="661" font-family="'Liberation Sans', sans-serif" font-size="11.6" font-weight="bold" fill="#1a1a1a" text-anchor="start" textLength="83" lengthAdjust="spacingAndGlyphs" >Boilersinfo.com</text></g>
</svg>
</body></html>
